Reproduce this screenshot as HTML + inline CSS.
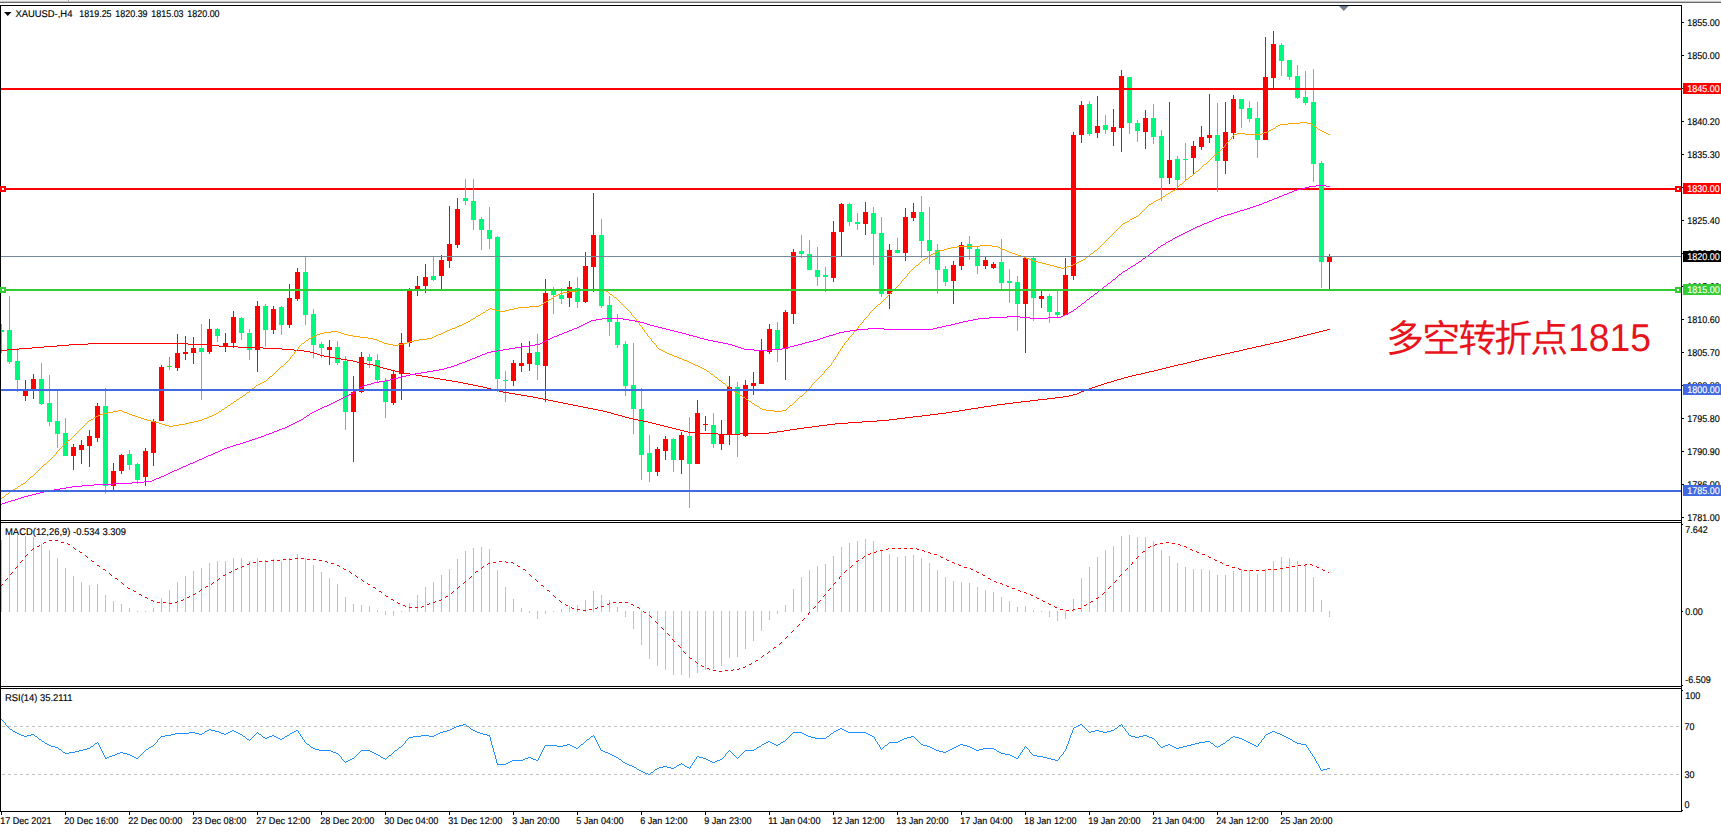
<!DOCTYPE html>
<html lang="zh"><head><meta charset="utf-8"><title>XAUUSD H4</title>
<style>html,body{margin:0;padding:0;background:#fff;overflow:hidden}svg{display:block}text{font-family:"Liberation Sans","Noto Sans CJK SC",sans-serif;font-size:9.8px;fill:#000;stroke:#000;stroke-width:.15px;text-rendering:geometricPrecision}.w{fill:#fff;stroke:#fff}.note{font-size:36.8px;fill:#E8141C;stroke:none;font-weight:400}</style></head><body>
<svg width="1721" height="832" viewBox="0 0 1721 832">
<rect width="1721" height="832" fill="#fff"/>
<g shape-rendering="crispEdges">
<rect x="0" y="0" width="1721" height="1" fill="#F2F2F2"/>
<rect x="0" y="1" width="1721" height="1" fill="#C4C4C4"/>
<rect x="0" y="2" width="1721" height="1" fill="#6A6A6A"/>
<rect x="68" y="0" width="1" height="1" fill="#A0A0A0"/>
<rect x="68" y="1" width="1" height="1" fill="#B4B4B4"/>
<rect x="69" y="0" width="1" height="1" fill="#FFFFFF"/>
<rect x="1" y="188" width="1681" height="2" fill="#FF0000"/>
<g id="candles">
<rect x="1" y="324" width="1" height="29" fill="#00F87C"/>
<rect x="-1" y="330" width="5" height="2" fill="#00F87C"/>
<rect x="9" y="296" width="1" height="68" fill="#00F87C"/>
<rect x="7" y="330" width="5" height="32" fill="#00F87C"/>
<rect x="17" y="348" width="1" height="44" fill="#00F87C"/>
<rect x="15" y="361" width="5" height="19" fill="#00F87C"/>
<rect x="25" y="380" width="1" height="21" fill="#FF0000"/>
<rect x="23" y="390" width="5" height="6" fill="#FF0000"/>
<rect x="33" y="374" width="1" height="25" fill="#FF0000"/>
<rect x="31" y="379" width="5" height="11" fill="#FF0000"/>
<rect x="41" y="363" width="1" height="42" fill="#00F87C"/>
<rect x="39" y="379" width="5" height="25" fill="#00F87C"/>
<rect x="49" y="375" width="1" height="51" fill="#00F87C"/>
<rect x="47" y="403" width="5" height="19" fill="#00F87C"/>
<rect x="57" y="390" width="1" height="58" fill="#00F87C"/>
<rect x="55" y="421" width="5" height="13" fill="#00F87C"/>
<rect x="65" y="418" width="1" height="38" fill="#00F87C"/>
<rect x="63" y="433" width="5" height="23" fill="#00F87C"/>
<rect x="73" y="444" width="1" height="26" fill="#FF0000"/>
<rect x="71" y="447" width="5" height="9" fill="#FF0000"/>
<rect x="81" y="440" width="1" height="24" fill="#FF0000"/>
<rect x="79" y="445" width="5" height="5" fill="#FF0000"/>
<rect x="89" y="430" width="1" height="37" fill="#FF0000"/>
<rect x="87" y="436" width="5" height="10" fill="#FF0000"/>
<rect x="97" y="403" width="1" height="39" fill="#FF0000"/>
<rect x="95" y="406" width="5" height="32" fill="#FF0000"/>
<rect x="105" y="388" width="1" height="105" fill="#00F87C"/>
<rect x="103" y="406" width="5" height="80" fill="#00F87C"/>
<rect x="113" y="463" width="1" height="27" fill="#FF0000"/>
<rect x="111" y="471" width="5" height="15" fill="#FF0000"/>
<rect x="121" y="454" width="1" height="20" fill="#FF0000"/>
<rect x="119" y="455" width="5" height="16" fill="#FF0000"/>
<rect x="129" y="450" width="1" height="20" fill="#00F87C"/>
<rect x="127" y="454" width="5" height="11" fill="#00F87C"/>
<rect x="137" y="463" width="1" height="21" fill="#00F87C"/>
<rect x="135" y="464" width="5" height="16" fill="#00F87C"/>
<rect x="145" y="448" width="1" height="38" fill="#FF0000"/>
<rect x="143" y="451" width="5" height="26" fill="#FF0000"/>
<rect x="153" y="419" width="1" height="47" fill="#FF0000"/>
<rect x="151" y="421" width="5" height="32" fill="#FF0000"/>
<rect x="161" y="365" width="1" height="56" fill="#FF0000"/>
<rect x="159" y="367" width="5" height="54" fill="#FF0000"/>
<rect x="169" y="357" width="1" height="13" fill="#22DD22"/>
<rect x="167" y="366" width="5" height="1" fill="#22DD22"/>
<rect x="177" y="334" width="1" height="37" fill="#FF0000"/>
<rect x="175" y="353" width="5" height="15" fill="#FF0000"/>
<rect x="185" y="336" width="1" height="24" fill="#FF0000"/>
<rect x="183" y="352" width="5" height="2" fill="#FF0000"/>
<rect x="193" y="337" width="1" height="27" fill="#FF0000"/>
<rect x="191" y="348" width="5" height="5" fill="#FF0000"/>
<rect x="201" y="324" width="1" height="76" fill="#00F87C"/>
<rect x="199" y="348" width="5" height="4" fill="#00F87C"/>
<rect x="209" y="319" width="1" height="35" fill="#FF0000"/>
<rect x="207" y="329" width="5" height="23" fill="#FF0000"/>
<rect x="217" y="328" width="1" height="14" fill="#00F87C"/>
<rect x="215" y="329" width="5" height="7" fill="#00F87C"/>
<rect x="225" y="333" width="1" height="19" fill="#FF0000"/>
<rect x="223" y="343" width="5" height="4" fill="#FF0000"/>
<rect x="233" y="311" width="1" height="37" fill="#FF0000"/>
<rect x="231" y="317" width="5" height="26" fill="#FF0000"/>
<rect x="241" y="317" width="1" height="23" fill="#00F87C"/>
<rect x="239" y="318" width="5" height="15" fill="#00F87C"/>
<rect x="249" y="329" width="1" height="31" fill="#00F87C"/>
<rect x="247" y="333" width="5" height="17" fill="#00F87C"/>
<rect x="257" y="301" width="1" height="71" fill="#FF0000"/>
<rect x="255" y="306" width="5" height="44" fill="#FF0000"/>
<rect x="265" y="304" width="1" height="43" fill="#00F87C"/>
<rect x="263" y="306" width="5" height="24" fill="#00F87C"/>
<rect x="273" y="306" width="1" height="28" fill="#FF0000"/>
<rect x="271" y="309" width="5" height="21" fill="#FF0000"/>
<rect x="281" y="306" width="1" height="29" fill="#00F87C"/>
<rect x="279" y="307" width="5" height="18" fill="#00F87C"/>
<rect x="289" y="284" width="1" height="44" fill="#FF0000"/>
<rect x="287" y="298" width="5" height="27" fill="#FF0000"/>
<rect x="297" y="268" width="1" height="33" fill="#FF0000"/>
<rect x="295" y="272" width="5" height="27" fill="#FF0000"/>
<rect x="305" y="256" width="1" height="69" fill="#00F87C"/>
<rect x="303" y="272" width="5" height="43" fill="#00F87C"/>
<rect x="313" y="309" width="1" height="49" fill="#00F87C"/>
<rect x="311" y="314" width="5" height="31" fill="#00F87C"/>
<rect x="321" y="342" width="1" height="16" fill="#00F87C"/>
<rect x="319" y="344" width="5" height="4" fill="#00F87C"/>
<rect x="329" y="340" width="1" height="25" fill="#FF0000"/>
<rect x="327" y="347" width="5" height="3" fill="#FF0000"/>
<rect x="337" y="341" width="1" height="24" fill="#00F87C"/>
<rect x="335" y="347" width="5" height="16" fill="#00F87C"/>
<rect x="345" y="356" width="1" height="74" fill="#00F87C"/>
<rect x="343" y="361" width="5" height="51" fill="#00F87C"/>
<rect x="353" y="376" width="1" height="86" fill="#FF0000"/>
<rect x="351" y="392" width="5" height="20" fill="#FF0000"/>
<rect x="361" y="352" width="1" height="41" fill="#FF0000"/>
<rect x="359" y="357" width="5" height="35" fill="#FF0000"/>
<rect x="369" y="354" width="1" height="14" fill="#00F87C"/>
<rect x="367" y="357" width="5" height="4" fill="#00F87C"/>
<rect x="377" y="354" width="1" height="29" fill="#00F87C"/>
<rect x="375" y="360" width="5" height="20" fill="#00F87C"/>
<rect x="385" y="378" width="1" height="40" fill="#00F87C"/>
<rect x="383" y="381" width="5" height="21" fill="#00F87C"/>
<rect x="393" y="370" width="1" height="35" fill="#FF0000"/>
<rect x="391" y="374" width="5" height="29" fill="#FF0000"/>
<rect x="401" y="333" width="1" height="67" fill="#FF0000"/>
<rect x="399" y="343" width="5" height="31" fill="#FF0000"/>
<rect x="409" y="288" width="1" height="59" fill="#FF0000"/>
<rect x="407" y="291" width="5" height="52" fill="#FF0000"/>
<rect x="417" y="276" width="1" height="20" fill="#FF0000"/>
<rect x="415" y="286" width="5" height="3" fill="#FF0000"/>
<rect x="425" y="264" width="1" height="29" fill="#FF0000"/>
<rect x="423" y="277" width="5" height="9" fill="#FF0000"/>
<rect x="433" y="256" width="1" height="25" fill="#00F87C"/>
<rect x="431" y="276" width="5" height="4" fill="#00F87C"/>
<rect x="441" y="255" width="1" height="34" fill="#FF0000"/>
<rect x="439" y="260" width="5" height="16" fill="#FF0000"/>
<rect x="449" y="206" width="1" height="62" fill="#FF0000"/>
<rect x="447" y="244" width="5" height="17" fill="#FF0000"/>
<rect x="457" y="198" width="1" height="50" fill="#FF0000"/>
<rect x="455" y="209" width="5" height="36" fill="#FF0000"/>
<rect x="465" y="179" width="1" height="26" fill="#00F87C"/>
<rect x="463" y="198" width="5" height="3" fill="#00F87C"/>
<rect x="473" y="179" width="1" height="51" fill="#00F87C"/>
<rect x="471" y="201" width="5" height="19" fill="#00F87C"/>
<rect x="481" y="217" width="1" height="33" fill="#00F87C"/>
<rect x="479" y="219" width="5" height="11" fill="#00F87C"/>
<rect x="489" y="207" width="1" height="42" fill="#00F87C"/>
<rect x="487" y="230" width="5" height="9" fill="#00F87C"/>
<rect x="497" y="236" width="1" height="156" fill="#00F87C"/>
<rect x="495" y="237" width="5" height="142" fill="#00F87C"/>
<rect x="505" y="371" width="1" height="31" fill="#00F87C"/>
<rect x="503" y="380" width="5" height="1" fill="#00F87C"/>
<rect x="513" y="360" width="1" height="26" fill="#FF0000"/>
<rect x="511" y="363" width="5" height="18" fill="#FF0000"/>
<rect x="521" y="343" width="1" height="29" fill="#FF0000"/>
<rect x="519" y="363" width="5" height="3" fill="#FF0000"/>
<rect x="529" y="341" width="1" height="30" fill="#FF0000"/>
<rect x="527" y="353" width="5" height="11" fill="#FF0000"/>
<rect x="537" y="334" width="1" height="46" fill="#00F87C"/>
<rect x="535" y="352" width="5" height="13" fill="#00F87C"/>
<rect x="545" y="279" width="1" height="123" fill="#FF0000"/>
<rect x="543" y="293" width="5" height="73" fill="#FF0000"/>
<rect x="553" y="287" width="1" height="27" fill="#00F87C"/>
<rect x="551" y="290" width="5" height="5" fill="#00F87C"/>
<rect x="561" y="288" width="1" height="16" fill="#00F87C"/>
<rect x="559" y="295" width="5" height="4" fill="#00F87C"/>
<rect x="569" y="281" width="1" height="26" fill="#FF0000"/>
<rect x="567" y="287" width="5" height="11" fill="#FF0000"/>
<rect x="577" y="277" width="1" height="31" fill="#00F87C"/>
<rect x="575" y="288" width="5" height="14" fill="#00F87C"/>
<rect x="585" y="252" width="1" height="51" fill="#FF0000"/>
<rect x="583" y="266" width="5" height="36" fill="#FF0000"/>
<rect x="593" y="193" width="1" height="99" fill="#FF0000"/>
<rect x="591" y="235" width="5" height="32" fill="#FF0000"/>
<rect x="601" y="219" width="1" height="89" fill="#00F87C"/>
<rect x="599" y="235" width="5" height="71" fill="#00F87C"/>
<rect x="609" y="296" width="1" height="40" fill="#00F87C"/>
<rect x="607" y="305" width="5" height="17" fill="#00F87C"/>
<rect x="617" y="314" width="1" height="34" fill="#00F87C"/>
<rect x="615" y="322" width="5" height="23" fill="#00F87C"/>
<rect x="625" y="341" width="1" height="55" fill="#00F87C"/>
<rect x="623" y="344" width="5" height="42" fill="#00F87C"/>
<rect x="633" y="343" width="1" height="91" fill="#00F87C"/>
<rect x="631" y="385" width="5" height="24" fill="#00F87C"/>
<rect x="641" y="388" width="1" height="92" fill="#00F87C"/>
<rect x="639" y="409" width="5" height="46" fill="#00F87C"/>
<rect x="649" y="435" width="1" height="47" fill="#00F87C"/>
<rect x="647" y="453" width="5" height="19" fill="#00F87C"/>
<rect x="657" y="447" width="1" height="29" fill="#FF0000"/>
<rect x="655" y="449" width="5" height="23" fill="#FF0000"/>
<rect x="665" y="436" width="1" height="24" fill="#FF0000"/>
<rect x="663" y="439" width="5" height="12" fill="#FF0000"/>
<rect x="673" y="438" width="1" height="34" fill="#00F87C"/>
<rect x="671" y="439" width="5" height="21" fill="#00F87C"/>
<rect x="681" y="432" width="1" height="42" fill="#FF0000"/>
<rect x="679" y="435" width="5" height="25" fill="#FF0000"/>
<rect x="689" y="417" width="1" height="91" fill="#00F87C"/>
<rect x="687" y="436" width="5" height="28" fill="#00F87C"/>
<rect x="697" y="400" width="1" height="64" fill="#FF0000"/>
<rect x="695" y="413" width="5" height="51" fill="#FF0000"/>
<rect x="705" y="416" width="1" height="15" fill="#FF0000"/>
<rect x="703" y="424" width="5" height="1" fill="#FF0000"/>
<rect x="713" y="413" width="1" height="35" fill="#00F87C"/>
<rect x="711" y="425" width="5" height="19" fill="#00F87C"/>
<rect x="721" y="420" width="1" height="30" fill="#FF0000"/>
<rect x="719" y="434" width="5" height="10" fill="#FF0000"/>
<rect x="729" y="376" width="1" height="69" fill="#FF0000"/>
<rect x="727" y="387" width="5" height="48" fill="#FF0000"/>
<rect x="737" y="382" width="1" height="75" fill="#00F87C"/>
<rect x="735" y="387" width="5" height="48" fill="#00F87C"/>
<rect x="745" y="380" width="1" height="57" fill="#FF0000"/>
<rect x="743" y="385" width="5" height="51" fill="#FF0000"/>
<rect x="753" y="372" width="1" height="23" fill="#FF0000"/>
<rect x="751" y="383" width="5" height="3" fill="#FF0000"/>
<rect x="761" y="339" width="1" height="45" fill="#FF0000"/>
<rect x="759" y="351" width="5" height="33" fill="#FF0000"/>
<rect x="769" y="324" width="1" height="30" fill="#FF0000"/>
<rect x="767" y="329" width="5" height="23" fill="#FF0000"/>
<rect x="777" y="322" width="1" height="40" fill="#00F87C"/>
<rect x="775" y="330" width="5" height="19" fill="#00F87C"/>
<rect x="785" y="310" width="1" height="70" fill="#FF0000"/>
<rect x="783" y="312" width="5" height="37" fill="#FF0000"/>
<rect x="793" y="249" width="1" height="75" fill="#FF0000"/>
<rect x="791" y="252" width="5" height="62" fill="#FF0000"/>
<rect x="801" y="235" width="1" height="23" fill="#00F87C"/>
<rect x="799" y="251" width="5" height="3" fill="#00F87C"/>
<rect x="809" y="240" width="1" height="30" fill="#00F87C"/>
<rect x="807" y="254" width="5" height="16" fill="#00F87C"/>
<rect x="817" y="247" width="1" height="39" fill="#00F87C"/>
<rect x="815" y="270" width="5" height="7" fill="#00F87C"/>
<rect x="825" y="267" width="1" height="25" fill="#00F87C"/>
<rect x="823" y="275" width="5" height="2" fill="#00F87C"/>
<rect x="833" y="221" width="1" height="61" fill="#FF0000"/>
<rect x="831" y="232" width="5" height="46" fill="#FF0000"/>
<rect x="841" y="203" width="1" height="53" fill="#FF0000"/>
<rect x="839" y="204" width="5" height="28" fill="#FF0000"/>
<rect x="849" y="203" width="1" height="23" fill="#00F87C"/>
<rect x="847" y="204" width="5" height="18" fill="#00F87C"/>
<rect x="857" y="213" width="1" height="17" fill="#00F87C"/>
<rect x="855" y="222" width="5" height="2" fill="#00F87C"/>
<rect x="865" y="202" width="1" height="33" fill="#FF0000"/>
<rect x="863" y="212" width="5" height="12" fill="#FF0000"/>
<rect x="873" y="207" width="1" height="58" fill="#00F87C"/>
<rect x="871" y="213" width="5" height="21" fill="#00F87C"/>
<rect x="881" y="217" width="1" height="80" fill="#00F87C"/>
<rect x="879" y="233" width="5" height="61" fill="#00F87C"/>
<rect x="889" y="244" width="1" height="65" fill="#FF0000"/>
<rect x="887" y="250" width="5" height="44" fill="#FF0000"/>
<rect x="897" y="238" width="1" height="15" fill="#00F87C"/>
<rect x="895" y="250" width="5" height="3" fill="#00F87C"/>
<rect x="905" y="208" width="1" height="53" fill="#FF0000"/>
<rect x="903" y="217" width="5" height="36" fill="#FF0000"/>
<rect x="913" y="203" width="1" height="18" fill="#FF0000"/>
<rect x="911" y="212" width="5" height="6" fill="#FF0000"/>
<rect x="921" y="196" width="1" height="62" fill="#00F87C"/>
<rect x="919" y="212" width="5" height="29" fill="#00F87C"/>
<rect x="929" y="207" width="1" height="57" fill="#00F87C"/>
<rect x="927" y="240" width="5" height="11" fill="#00F87C"/>
<rect x="937" y="244" width="1" height="50" fill="#00F87C"/>
<rect x="935" y="250" width="5" height="20" fill="#00F87C"/>
<rect x="945" y="266" width="1" height="20" fill="#00F87C"/>
<rect x="943" y="269" width="5" height="13" fill="#00F87C"/>
<rect x="953" y="261" width="1" height="43" fill="#FF0000"/>
<rect x="951" y="265" width="5" height="16" fill="#FF0000"/>
<rect x="961" y="242" width="1" height="28" fill="#FF0000"/>
<rect x="959" y="245" width="5" height="21" fill="#FF0000"/>
<rect x="969" y="236" width="1" height="24" fill="#00F87C"/>
<rect x="967" y="244" width="5" height="5" fill="#00F87C"/>
<rect x="977" y="247" width="1" height="27" fill="#00F87C"/>
<rect x="975" y="249" width="5" height="17" fill="#00F87C"/>
<rect x="985" y="257" width="1" height="12" fill="#FF0000"/>
<rect x="983" y="260" width="5" height="6" fill="#FF0000"/>
<rect x="993" y="262" width="1" height="7" fill="#FF0000"/>
<rect x="991" y="264" width="5" height="4" fill="#FF0000"/>
<rect x="1001" y="239" width="1" height="50" fill="#00F87C"/>
<rect x="999" y="262" width="5" height="21" fill="#00F87C"/>
<rect x="1009" y="269" width="1" height="34" fill="#00F87C"/>
<rect x="1007" y="281" width="5" height="2" fill="#00F87C"/>
<rect x="1017" y="276" width="1" height="55" fill="#00F87C"/>
<rect x="1015" y="282" width="5" height="22" fill="#00F87C"/>
<rect x="1025" y="256" width="1" height="97" fill="#FF0000"/>
<rect x="1023" y="258" width="5" height="46" fill="#FF0000"/>
<rect x="1033" y="257" width="1" height="64" fill="#00F87C"/>
<rect x="1031" y="258" width="5" height="40" fill="#00F87C"/>
<rect x="1041" y="291" width="1" height="17" fill="#FF0000"/>
<rect x="1039" y="296" width="5" height="3" fill="#FF0000"/>
<rect x="1049" y="294" width="1" height="29" fill="#00F87C"/>
<rect x="1047" y="296" width="5" height="16" fill="#00F87C"/>
<rect x="1057" y="290" width="1" height="27" fill="#00F87C"/>
<rect x="1055" y="312" width="5" height="3" fill="#00F87C"/>
<rect x="1065" y="258" width="1" height="57" fill="#FF0000"/>
<rect x="1063" y="275" width="5" height="40" fill="#FF0000"/>
<rect x="1073" y="132" width="1" height="148" fill="#FF0000"/>
<rect x="1071" y="135" width="5" height="141" fill="#FF0000"/>
<rect x="1081" y="101" width="1" height="42" fill="#FF0000"/>
<rect x="1079" y="105" width="5" height="30" fill="#FF0000"/>
<rect x="1089" y="101" width="1" height="35" fill="#00F87C"/>
<rect x="1087" y="104" width="5" height="30" fill="#00F87C"/>
<rect x="1097" y="96" width="1" height="42" fill="#FF0000"/>
<rect x="1095" y="126" width="5" height="7" fill="#FF0000"/>
<rect x="1105" y="115" width="1" height="19" fill="#00F87C"/>
<rect x="1103" y="125" width="5" height="5" fill="#00F87C"/>
<rect x="1113" y="109" width="1" height="37" fill="#FF0000"/>
<rect x="1111" y="127" width="5" height="5" fill="#FF0000"/>
<rect x="1121" y="70" width="1" height="82" fill="#FF0000"/>
<rect x="1119" y="76" width="5" height="52" fill="#FF0000"/>
<rect x="1129" y="77" width="1" height="57" fill="#00F87C"/>
<rect x="1127" y="77" width="5" height="46" fill="#00F87C"/>
<rect x="1137" y="120" width="1" height="22" fill="#00F87C"/>
<rect x="1135" y="123" width="5" height="8" fill="#00F87C"/>
<rect x="1145" y="110" width="1" height="39" fill="#FF0000"/>
<rect x="1143" y="118" width="5" height="14" fill="#FF0000"/>
<rect x="1153" y="104" width="1" height="40" fill="#00F87C"/>
<rect x="1151" y="118" width="5" height="19" fill="#00F87C"/>
<rect x="1161" y="130" width="1" height="71" fill="#00F87C"/>
<rect x="1159" y="136" width="5" height="42" fill="#00F87C"/>
<rect x="1169" y="102" width="1" height="82" fill="#FF0000"/>
<rect x="1167" y="160" width="5" height="18" fill="#FF0000"/>
<rect x="1177" y="156" width="1" height="31" fill="#00F87C"/>
<rect x="1175" y="159" width="5" height="21" fill="#00F87C"/>
<rect x="1185" y="143" width="1" height="37" fill="#00F87C"/>
<rect x="1183" y="159" width="5" height="1" fill="#00F87C"/>
<rect x="1193" y="141" width="1" height="33" fill="#FF0000"/>
<rect x="1191" y="146" width="5" height="12" fill="#FF0000"/>
<rect x="1201" y="126" width="1" height="24" fill="#FF0000"/>
<rect x="1199" y="137" width="5" height="10" fill="#FF0000"/>
<rect x="1209" y="94" width="1" height="49" fill="#FF0000"/>
<rect x="1207" y="135" width="5" height="3" fill="#FF0000"/>
<rect x="1217" y="103" width="1" height="89" fill="#00F87C"/>
<rect x="1215" y="135" width="5" height="26" fill="#00F87C"/>
<rect x="1225" y="102" width="1" height="72" fill="#FF0000"/>
<rect x="1223" y="132" width="5" height="29" fill="#FF0000"/>
<rect x="1233" y="95" width="1" height="44" fill="#FF0000"/>
<rect x="1231" y="99" width="5" height="34" fill="#FF0000"/>
<rect x="1241" y="99" width="1" height="29" fill="#00F87C"/>
<rect x="1239" y="99" width="5" height="10" fill="#00F87C"/>
<rect x="1249" y="101" width="1" height="21" fill="#00F87C"/>
<rect x="1247" y="108" width="5" height="11" fill="#00F87C"/>
<rect x="1257" y="102" width="1" height="56" fill="#00F87C"/>
<rect x="1255" y="118" width="5" height="22" fill="#00F87C"/>
<rect x="1265" y="37" width="1" height="103" fill="#FF0000"/>
<rect x="1263" y="77" width="5" height="63" fill="#FF0000"/>
<rect x="1273" y="31" width="1" height="57" fill="#FF0000"/>
<rect x="1271" y="44" width="5" height="34" fill="#FF0000"/>
<rect x="1281" y="43" width="1" height="33" fill="#00F87C"/>
<rect x="1279" y="45" width="5" height="16" fill="#00F87C"/>
<rect x="1289" y="60" width="1" height="20" fill="#00F87C"/>
<rect x="1287" y="60" width="5" height="17" fill="#00F87C"/>
<rect x="1297" y="65" width="1" height="34" fill="#00F87C"/>
<rect x="1295" y="76" width="5" height="22" fill="#00F87C"/>
<rect x="1305" y="71" width="1" height="34" fill="#00F87C"/>
<rect x="1303" y="97" width="5" height="6" fill="#00F87C"/>
<rect x="1313" y="69" width="1" height="113" fill="#00F87C"/>
<rect x="1311" y="102" width="5" height="62" fill="#00F87C"/>
<rect x="1321" y="161" width="1" height="127" fill="#00F87C"/>
<rect x="1319" y="163" width="5" height="99" fill="#00F87C"/>
<rect x="1329" y="254" width="1" height="35" fill="#FF0000"/>
<rect x="1327" y="256" width="5" height="6" fill="#FF0000"/>
</g>
<path d="M1327,329h3v1h-3zM1323,330h4v1h-4zM1319,331h4v1h-4zM1315,332h4v1h-4zM1311,333h4v1h-4zM1307,334h4v1h-4zM1303,335h4v1h-4zM1299,336h4v1h-4zM1295,337h4v1h-4zM1291,338h4v1h-4zM1287,339h4v1h-4zM1283,340h4v1h-4zM1279,341h4v1h-4zM1274,342h5v1h-5zM88,343h100v1h-100zM1270,343h4v1h-4zM69,344h19v1h-19zM188,344h19v1h-19zM1265,344h5v1h-5zM57,345h12v1h-12zM207,345h12v1h-12zM1261,345h4v1h-4zM44,346h13v1h-13zM219,346h19v1h-19zM1256,346h5v1h-5zM32,347h12v1h-12zM238,347h25v1h-25zM1252,347h4v1h-4zM19,348h13v1h-13zM263,348h19v1h-19zM1247,348h5v1h-5zM7,349h12v1h-12zM282,349h12v1h-12zM1243,349h4v1h-4zM0,350h7v1h-7zM294,350h10v1h-10zM1239,350h4v1h-4zM304,351h6v1h-6zM1234,351h5v1h-5zM310,352h4v1h-4zM1230,352h4v1h-4zM314,353h3v1h-3zM1225,353h5v1h-5zM317,354h3v1h-3zM1221,354h4v1h-4zM320,355h4v1h-4zM1216,355h5v1h-5zM324,356h5v1h-5zM1212,356h4v1h-4zM329,357h6v1h-6zM1207,357h5v1h-5zM335,358h6v1h-6zM1203,358h4v1h-4zM341,359h6v1h-6zM1199,359h4v1h-4zM347,360h6v1h-6zM1195,360h4v1h-4zM353,361h4v1h-4zM1191,361h4v1h-4zM357,362h5v1h-5zM1187,362h4v1h-4zM362,363h5v1h-5zM1183,363h4v1h-4zM367,364h6v1h-6zM1178,364h5v1h-5zM373,365h4v1h-4zM1174,365h4v1h-4zM377,366h3v1h-3zM1170,366h4v1h-4zM380,367h3v1h-3zM1166,367h4v1h-4zM383,368h4v1h-4zM1162,368h4v1h-4zM387,369h4v1h-4zM1158,369h4v1h-4zM391,370h4v1h-4zM1154,370h4v1h-4zM395,371h4v1h-4zM1149,371h5v1h-5zM399,372h5v1h-5zM1145,372h4v1h-4zM404,373h6v1h-6zM1141,373h4v1h-4zM410,374h6v1h-6zM1136,374h5v1h-5zM416,375h6v1h-6zM1132,375h4v1h-4zM422,376h6v1h-6zM1128,376h4v1h-4zM428,377h6v1h-6zM1124,377h4v1h-4zM434,378h6v1h-6zM1121,378h3v1h-3zM440,379h6v1h-6zM1117,379h4v1h-4zM446,380h6v1h-6zM1114,380h3v1h-3zM452,381h6v1h-6zM1111,381h3v1h-3zM458,382h5v1h-5zM1107,382h4v1h-4zM463,383h5v1h-5zM1104,383h3v1h-3zM468,384h5v1h-5zM1101,384h3v1h-3zM473,385h5v1h-5zM1098,385h3v1h-3zM478,386h5v1h-5zM1095,386h3v1h-3zM483,387h4v1h-4zM1092,387h3v1h-3zM487,388h4v1h-4zM1089,388h3v1h-3zM491,389h4v1h-4zM1086,389h3v1h-3zM495,390h4v1h-4zM1084,390h2v1h-2zM499,391h4v1h-4zM1081,391h3v1h-3zM503,392h6v1h-6zM1079,392h2v1h-2zM509,393h6v1h-6zM1077,393h2v1h-2zM515,394h6v1h-6zM1073,394h4v1h-4zM521,395h6v1h-6zM1069,395h4v1h-4zM527,396h6v1h-6zM1063,396h6v1h-6zM533,397h5v1h-5zM1055,397h8v1h-8zM538,398h5v1h-5zM1047,398h8v1h-8zM543,399h5v1h-5zM1038,399h9v1h-9zM548,400h5v1h-5zM1030,400h8v1h-8zM553,401h5v1h-5zM1021,401h9v1h-9zM558,402h5v1h-5zM1013,402h8v1h-8zM563,403h5v1h-5zM1005,403h8v1h-8zM568,404h5v1h-5zM997,404h8v1h-8zM573,405h5v1h-5zM991,405h6v1h-6zM578,406h5v1h-5zM984,406h7v1h-7zM583,407h5v1h-5zM978,407h6v1h-6zM588,408h5v1h-5zM971,408h7v1h-7zM593,409h5v1h-5zM965,409h6v1h-6zM598,410h5v1h-5zM959,410h6v1h-6zM603,411h4v1h-4zM952,411h7v1h-7zM607,412h4v1h-4zM946,412h6v1h-6zM611,413h3v1h-3zM938,413h8v1h-8zM614,414h4v1h-4zM930,414h8v1h-8zM618,415h4v1h-4zM922,415h8v1h-8zM622,416h3v1h-3zM913,416h9v1h-9zM625,417h4v1h-4zM905,417h8v1h-8zM629,418h4v1h-4zM897,418h8v1h-8zM633,419h5v1h-5zM889,419h8v1h-8zM638,420h5v1h-5zM877,420h12v1h-12zM643,421h5v1h-5zM862,421h15v1h-15zM648,422h4v1h-4zM848,422h14v1h-14zM652,423h4v1h-4zM835,423h13v1h-13zM656,424h4v1h-4zM827,424h8v1h-8zM660,425h4v1h-4zM819,425h8v1h-8zM664,426h4v1h-4zM812,426h7v1h-7zM668,427h4v1h-4zM804,427h8v1h-8zM672,428h4v1h-4zM797,428h7v1h-7zM676,429h4v1h-4zM790,429h7v1h-7zM680,430h4v1h-4zM784,430h6v1h-6zM684,431h4v1h-4zM777,431h7v1h-7zM688,432h10v1h-10zM769,432h8v1h-8zM698,433h20v1h-20zM740,433h29v1h-29zM718,434h22v1h-22z" fill="#FF0000"/>
<path d="M1300,122h7v1h-7zM1288,123h12v1h-12zM1307,123h4v1h-4zM1280,124h8v1h-8zM1311,124h2v1h-2zM1278,125h2v1h-2zM1313,125h1v1h-1zM1276,126h2v1h-2zM1314,126h2v1h-2zM1275,127h1v1h-1zM1316,127h1v1h-1zM1273,128h2v1h-2zM1317,128h1v1h-1zM1271,129h2v1h-2zM1318,129h2v1h-2zM1269,130h2v1h-2zM1320,130h2v1h-2zM1267,131h2v1h-2zM1322,131h2v1h-2zM1264,132h3v1h-3zM1324,132h2v1h-2zM1237,133h8v1h-8zM1262,133h2v1h-2zM1326,133h2v1h-2zM1234,134h3v1h-3zM1245,134h17v1h-17zM1328,134h2v1h-2zM1233,135h1v1h-1zM1232,136h1v1h-1zM1231,137h1v1h-1zM1231,138h1v1h-1zM1230,139h1v1h-1zM1229,140h1v1h-1zM1228,141h1v1h-1zM1227,142h1v1h-1zM1226,143h1v1h-1zM1225,144h1v1h-1zM1225,145h1v1h-1zM1224,146h1v1h-1zM1223,147h1v1h-1zM1222,148h1v1h-1zM1221,149h1v1h-1zM1220,150h1v1h-1zM1219,151h1v1h-1zM1218,152h1v1h-1zM1217,153h1v1h-1zM1215,154h2v1h-2zM1214,155h1v1h-1zM1213,156h1v1h-1zM1212,157h1v1h-1zM1211,158h1v1h-1zM1210,159h1v1h-1zM1209,160h1v1h-1zM1208,161h1v1h-1zM1207,162h1v1h-1zM1206,163h1v1h-1zM1204,164h2v1h-2zM1203,165h1v1h-1zM1202,166h1v1h-1zM1201,167h1v1h-1zM1200,168h1v1h-1zM1199,169h1v1h-1zM1198,170h1v1h-1zM1196,171h2v1h-2zM1195,172h1v1h-1zM1194,173h1v1h-1zM1193,174h1v1h-1zM1192,175h1v1h-1zM1190,176h2v1h-2zM1189,177h1v1h-1zM1188,178h1v1h-1zM1186,179h2v1h-2zM1185,180h1v1h-1zM1184,181h1v1h-1zM1183,182h1v1h-1zM1182,183h1v1h-1zM1180,184h2v1h-2zM1179,185h1v1h-1zM1178,186h1v1h-1zM1177,187h1v1h-1zM1176,188h1v1h-1zM1175,189h1v1h-1zM1173,190h2v1h-2zM1171,191h2v1h-2zM1170,192h1v1h-1zM1168,193h2v1h-2zM1166,194h2v1h-2zM1165,195h1v1h-1zM1163,196h2v1h-2zM1161,197h2v1h-2zM1160,198h1v1h-1zM1158,199h2v1h-2zM1156,200h2v1h-2zM1154,201h2v1h-2zM1153,202h1v1h-1zM1151,203h2v1h-2zM1149,204h2v1h-2zM1148,205h1v1h-1zM1147,206h1v1h-1zM1146,207h1v1h-1zM1145,208h1v1h-1zM1144,209h1v1h-1zM1143,210h1v1h-1zM1142,211h1v1h-1zM1141,212h1v1h-1zM1140,213h1v1h-1zM1139,214h1v1h-1zM1138,215h1v1h-1zM1136,216h2v1h-2zM1134,217h2v1h-2zM1132,218h2v1h-2zM1130,219h2v1h-2zM1129,220h1v1h-1zM1127,221h2v1h-2zM1125,222h2v1h-2zM1123,223h2v1h-2zM1122,224h1v1h-1zM1121,225h1v1h-1zM1120,226h1v1h-1zM1119,227h1v1h-1zM1118,228h1v1h-1zM1117,229h1v1h-1zM1116,230h1v1h-1zM1115,231h1v1h-1zM1114,232h1v1h-1zM1113,233h1v1h-1zM1112,234h1v1h-1zM1111,235h1v1h-1zM1110,236h1v1h-1zM1109,237h1v1h-1zM1108,238h1v1h-1zM1107,239h1v1h-1zM1106,240h1v1h-1zM1105,241h1v1h-1zM1104,242h1v1h-1zM1103,243h1v1h-1zM1102,244h1v1h-1zM980,245h12v1h-12zM1101,245h1v1h-1zM957,246h23v1h-23zM992,246h6v1h-6zM1100,246h1v1h-1zM951,247h6v1h-6zM998,247h2v1h-2zM1099,247h1v1h-1zM947,248h4v1h-4zM1000,248h2v1h-2zM1098,248h1v1h-1zM944,249h3v1h-3zM1002,249h3v1h-3zM1097,249h1v1h-1zM940,250h4v1h-4zM1005,250h2v1h-2zM1095,250h2v1h-2zM937,251h3v1h-3zM1007,251h2v1h-2zM1094,251h1v1h-1zM935,252h2v1h-2zM1009,252h3v1h-3zM1093,252h1v1h-1zM933,253h2v1h-2zM1012,253h3v1h-3zM1091,253h2v1h-2zM931,254h2v1h-2zM1015,254h3v1h-3zM1090,254h1v1h-1zM930,255h1v1h-1zM1018,255h3v1h-3zM1089,255h1v1h-1zM928,256h2v1h-2zM1021,256h3v1h-3zM1087,256h2v1h-2zM927,257h1v1h-1zM1024,257h2v1h-2zM1086,257h1v1h-1zM925,258h2v1h-2zM1026,258h3v1h-3zM1085,258h1v1h-1zM923,259h2v1h-2zM1029,259h3v1h-3zM1083,259h2v1h-2zM922,260h1v1h-1zM1032,260h2v1h-2zM1081,260h2v1h-2zM921,261h1v1h-1zM1034,261h4v1h-4zM1079,261h2v1h-2zM920,262h1v1h-1zM1038,262h4v1h-4zM1077,262h2v1h-2zM919,263h1v1h-1zM1042,263h4v1h-4zM1075,263h2v1h-2zM918,264h1v1h-1zM1046,264h4v1h-4zM1073,264h2v1h-2zM916,265h2v1h-2zM1050,265h4v1h-4zM1071,265h2v1h-2zM915,266h1v1h-1zM1054,266h3v1h-3zM1067,266h4v1h-4zM914,267h1v1h-1zM1057,267h4v1h-4zM1064,267h3v1h-3zM913,268h1v1h-1zM1061,268h3v1h-3zM912,269h1v1h-1zM911,270h1v1h-1zM910,271h1v1h-1zM909,272h1v1h-1zM908,273h1v1h-1zM907,274h1v1h-1zM907,275h1v1h-1zM906,276h1v1h-1zM905,277h1v1h-1zM904,278h1v1h-1zM903,279h1v1h-1zM902,280h1v1h-1zM901,281h1v1h-1zM901,282h1v1h-1zM900,283h1v1h-1zM899,284h1v1h-1zM898,285h1v1h-1zM897,286h1v1h-1zM896,287h1v1h-1zM895,288h1v1h-1zM587,289h12v1h-12zM894,289h1v1h-1zM577,290h10v1h-10zM599,290h7v1h-7zM893,290h1v1h-1zM569,291h8v1h-8zM606,291h2v1h-2zM892,291h1v1h-1zM563,292h6v1h-6zM608,292h1v1h-1zM891,292h1v1h-1zM560,293h3v1h-3zM609,293h1v1h-1zM890,293h1v1h-1zM558,294h2v1h-2zM610,294h2v1h-2zM889,294h1v1h-1zM556,295h2v1h-2zM612,295h1v1h-1zM888,295h1v1h-1zM554,296h2v1h-2zM613,296h1v1h-1zM887,296h1v1h-1zM553,297h1v1h-1zM614,297h2v1h-2zM886,297h1v1h-1zM551,298h2v1h-2zM616,298h1v1h-1zM885,298h1v1h-1zM549,299h2v1h-2zM617,299h1v1h-1zM884,299h1v1h-1zM548,300h1v1h-1zM618,300h1v1h-1zM883,300h1v1h-1zM546,301h2v1h-2zM619,301h1v1h-1zM882,301h1v1h-1zM544,302h2v1h-2zM620,302h1v1h-1zM881,302h1v1h-1zM543,303h1v1h-1zM621,303h1v1h-1zM880,303h1v1h-1zM541,304h2v1h-2zM622,304h1v1h-1zM878,304h2v1h-2zM539,305h2v1h-2zM623,305h1v1h-1zM877,305h1v1h-1zM529,306h10v1h-10zM624,306h1v1h-1zM876,306h1v1h-1zM518,307h11v1h-11zM625,307h1v1h-1zM875,307h1v1h-1zM490,308h2v1h-2zM514,308h4v1h-4zM626,308h1v1h-1zM874,308h1v1h-1zM488,309h2v1h-2zM492,309h4v1h-4zM509,309h5v1h-5zM627,309h1v1h-1zM873,309h1v1h-1zM486,310h2v1h-2zM496,310h4v1h-4zM505,310h4v1h-4zM628,310h1v1h-1zM872,310h1v1h-1zM485,311h1v1h-1zM500,311h5v1h-5zM629,311h1v1h-1zM871,311h1v1h-1zM483,312h2v1h-2zM630,312h1v1h-1zM870,312h1v1h-1zM481,313h2v1h-2zM631,313h1v1h-1zM869,313h1v1h-1zM480,314h1v1h-1zM631,314h1v1h-1zM869,314h1v1h-1zM478,315h2v1h-2zM632,315h1v1h-1zM868,315h1v1h-1zM476,316h2v1h-2zM633,316h1v1h-1zM867,316h1v1h-1zM475,317h1v1h-1zM634,317h1v1h-1zM866,317h1v1h-1zM473,318h2v1h-2zM635,318h1v1h-1zM865,318h1v1h-1zM471,319h2v1h-2zM636,319h1v1h-1zM864,319h1v1h-1zM470,320h1v1h-1zM636,320h1v1h-1zM863,320h1v1h-1zM468,321h2v1h-2zM637,321h1v1h-1zM863,321h1v1h-1zM466,322h2v1h-2zM638,322h1v1h-1zM862,322h1v1h-1zM464,323h2v1h-2zM639,323h1v1h-1zM861,323h1v1h-1zM462,324h2v1h-2zM639,324h1v1h-1zM860,324h1v1h-1zM459,325h3v1h-3zM640,325h1v1h-1zM859,325h1v1h-1zM457,326h2v1h-2zM641,326h1v1h-1zM858,326h1v1h-1zM455,327h2v1h-2zM642,327h1v1h-1zM858,327h1v1h-1zM452,328h3v1h-3zM642,328h1v1h-1zM857,328h1v1h-1zM450,329h2v1h-2zM643,329h1v1h-1zM856,329h1v1h-1zM447,330h3v1h-3zM644,330h1v1h-1zM855,330h1v1h-1zM331,331h7v1h-7zM445,331h2v1h-2zM644,331h1v1h-1zM854,331h1v1h-1zM324,332h7v1h-7zM338,332h3v1h-3zM443,332h2v1h-2zM645,332h1v1h-1zM853,332h1v1h-1zM320,333h4v1h-4zM341,333h3v1h-3zM441,333h2v1h-2zM646,333h1v1h-1zM853,333h1v1h-1zM317,334h3v1h-3zM344,334h4v1h-4zM438,334h3v1h-3zM647,334h1v1h-1zM852,334h1v1h-1zM315,335h2v1h-2zM348,335h5v1h-5zM436,335h2v1h-2zM647,335h1v1h-1zM851,335h1v1h-1zM313,336h2v1h-2zM353,336h7v1h-7zM434,336h2v1h-2zM648,336h1v1h-1zM850,336h1v1h-1zM311,337h2v1h-2zM360,337h8v1h-8zM432,337h2v1h-2zM649,337h1v1h-1zM849,337h1v1h-1zM309,338h2v1h-2zM368,338h5v1h-5zM427,338h5v1h-5zM650,338h1v1h-1zM848,338h1v1h-1zM308,339h1v1h-1zM373,339h4v1h-4zM419,339h8v1h-8zM651,339h1v1h-1zM848,339h1v1h-1zM306,340h2v1h-2zM377,340h2v1h-2zM414,340h5v1h-5zM651,340h1v1h-1zM847,340h1v1h-1zM305,341h1v1h-1zM379,341h3v1h-3zM410,341h4v1h-4zM652,341h1v1h-1zM846,341h1v1h-1zM304,342h1v1h-1zM382,342h2v1h-2zM407,342h3v1h-3zM653,342h1v1h-1zM845,342h1v1h-1zM302,343h2v1h-2zM384,343h4v1h-4zM403,343h4v1h-4zM654,343h1v1h-1zM844,343h1v1h-1zM301,344h1v1h-1zM388,344h5v1h-5zM398,344h5v1h-5zM655,344h1v1h-1zM844,344h1v1h-1zM300,345h1v1h-1zM393,345h5v1h-5zM656,345h1v1h-1zM843,345h1v1h-1zM299,346h1v1h-1zM656,346h1v1h-1zM842,346h1v1h-1zM298,347h1v1h-1zM657,347h1v1h-1zM842,347h1v1h-1zM298,348h1v1h-1zM658,348h1v1h-1zM841,348h1v1h-1zM297,349h1v1h-1zM659,349h2v1h-2zM840,349h1v1h-1zM296,350h1v1h-1zM661,350h2v1h-2zM840,350h1v1h-1zM295,351h1v1h-1zM663,351h2v1h-2zM839,351h1v1h-1zM294,352h1v1h-1zM665,352h2v1h-2zM838,352h1v1h-1zM294,353h1v1h-1zM667,353h2v1h-2zM838,353h1v1h-1zM293,354h1v1h-1zM669,354h3v1h-3zM837,354h1v1h-1zM292,355h1v1h-1zM672,355h2v1h-2zM837,355h1v1h-1zM291,356h1v1h-1zM674,356h3v1h-3zM836,356h1v1h-1zM290,357h1v1h-1zM677,357h2v1h-2zM835,357h1v1h-1zM290,358h1v1h-1zM679,358h3v1h-3zM835,358h1v1h-1zM289,359h1v1h-1zM682,359h2v1h-2zM834,359h1v1h-1zM288,360h1v1h-1zM684,360h3v1h-3zM833,360h1v1h-1zM287,361h1v1h-1zM687,361h2v1h-2zM833,361h1v1h-1zM286,362h1v1h-1zM689,362h2v1h-2zM832,362h1v1h-1zM285,363h1v1h-1zM691,363h2v1h-2zM831,363h1v1h-1zM284,364h1v1h-1zM693,364h2v1h-2zM831,364h1v1h-1zM283,365h1v1h-1zM695,365h3v1h-3zM830,365h1v1h-1zM281,366h2v1h-2zM698,366h2v1h-2zM829,366h1v1h-1zM280,367h1v1h-1zM700,367h2v1h-2zM828,367h1v1h-1zM279,368h1v1h-1zM702,368h2v1h-2zM827,368h1v1h-1zM278,369h1v1h-1zM704,369h2v1h-2zM826,369h1v1h-1zM277,370h1v1h-1zM706,370h1v1h-1zM825,370h1v1h-1zM276,371h1v1h-1zM707,371h2v1h-2zM824,371h1v1h-1zM275,372h1v1h-1zM709,372h1v1h-1zM824,372h1v1h-1zM274,373h1v1h-1zM710,373h1v1h-1zM823,373h1v1h-1zM273,374h1v1h-1zM711,374h2v1h-2zM822,374h1v1h-1zM272,375h1v1h-1zM713,375h1v1h-1zM821,375h1v1h-1zM270,376h2v1h-2zM714,376h1v1h-1zM820,376h1v1h-1zM269,377h1v1h-1zM715,377h2v1h-2zM819,377h1v1h-1zM268,378h1v1h-1zM717,378h1v1h-1zM818,378h1v1h-1zM267,379h1v1h-1zM718,379h1v1h-1zM817,379h1v1h-1zM266,380h1v1h-1zM719,380h2v1h-2zM816,380h1v1h-1zM264,381h2v1h-2zM721,381h1v1h-1zM815,381h1v1h-1zM262,382h2v1h-2zM722,382h1v1h-1zM814,382h1v1h-1zM260,383h2v1h-2zM723,383h2v1h-2zM813,383h1v1h-1zM258,384h2v1h-2zM725,384h1v1h-1zM812,384h1v1h-1zM256,385h2v1h-2zM726,385h1v1h-1zM811,385h1v1h-1zM255,386h1v1h-1zM727,386h2v1h-2zM811,386h1v1h-1zM254,387h1v1h-1zM729,387h1v1h-1zM810,387h1v1h-1zM252,388h2v1h-2zM730,388h1v1h-1zM809,388h1v1h-1zM251,389h1v1h-1zM731,389h2v1h-2zM808,389h1v1h-1zM250,390h1v1h-1zM733,390h1v1h-1zM807,390h1v1h-1zM249,391h1v1h-1zM734,391h2v1h-2zM806,391h1v1h-1zM247,392h2v1h-2zM736,392h1v1h-1zM805,392h1v1h-1zM246,393h1v1h-1zM737,393h2v1h-2zM804,393h1v1h-1zM245,394h1v1h-1zM739,394h1v1h-1zM803,394h1v1h-1zM243,395h2v1h-2zM740,395h2v1h-2zM802,395h1v1h-1zM242,396h1v1h-1zM742,396h1v1h-1zM800,396h2v1h-2zM240,397h2v1h-2zM743,397h2v1h-2zM799,397h1v1h-1zM239,398h1v1h-1zM745,398h1v1h-1zM798,398h1v1h-1zM237,399h2v1h-2zM746,399h2v1h-2zM797,399h1v1h-1zM236,400h1v1h-1zM748,400h1v1h-1zM796,400h1v1h-1zM234,401h2v1h-2zM749,401h2v1h-2zM795,401h1v1h-1zM233,402h1v1h-1zM751,402h1v1h-1zM794,402h1v1h-1zM231,403h2v1h-2zM752,403h2v1h-2zM793,403h1v1h-1zM230,404h1v1h-1zM754,404h1v1h-1zM792,404h1v1h-1zM228,405h2v1h-2zM755,405h2v1h-2zM790,405h2v1h-2zM227,406h1v1h-1zM757,406h2v1h-2zM789,406h1v1h-1zM225,407h2v1h-2zM759,407h1v1h-1zM788,407h1v1h-1zM224,408h1v1h-1zM760,408h2v1h-2zM787,408h1v1h-1zM222,409h2v1h-2zM762,409h4v1h-4zM786,409h1v1h-1zM118,410h4v1h-4zM221,410h1v1h-1zM766,410h8v1h-8zM782,410h4v1h-4zM113,411h5v1h-5zM122,411h2v1h-2zM219,411h2v1h-2zM774,411h8v1h-8zM108,412h5v1h-5zM124,412h3v1h-3zM218,412h1v1h-1zM104,413h4v1h-4zM127,413h2v1h-2zM216,413h2v1h-2zM100,414h4v1h-4zM129,414h3v1h-3zM214,414h2v1h-2zM98,415h2v1h-2zM132,415h3v1h-3zM212,415h2v1h-2zM96,416h2v1h-2zM135,416h3v1h-3zM209,416h3v1h-3zM94,417h2v1h-2zM138,417h3v1h-3zM207,417h2v1h-2zM93,418h1v1h-1zM141,418h3v1h-3zM204,418h3v1h-3zM91,419h2v1h-2zM144,419h3v1h-3zM202,419h2v1h-2zM89,420h2v1h-2zM147,420h4v1h-4zM198,420h4v1h-4zM88,421h1v1h-1zM151,421h4v1h-4zM194,421h4v1h-4zM87,422h1v1h-1zM155,422h4v1h-4zM189,422h5v1h-5zM86,423h1v1h-1zM159,423h3v1h-3zM185,423h4v1h-4zM85,424h1v1h-1zM162,424h3v1h-3zM179,424h6v1h-6zM84,425h1v1h-1zM165,425h4v1h-4zM173,425h6v1h-6zM83,426h1v1h-1zM169,426h4v1h-4zM82,427h1v1h-1zM81,428h1v1h-1zM80,429h1v1h-1zM79,430h1v1h-1zM78,431h1v1h-1zM77,432h1v1h-1zM76,433h1v1h-1zM75,434h1v1h-1zM74,435h1v1h-1zM73,436h1v1h-1zM72,437h1v1h-1zM71,438h1v1h-1zM70,439h1v1h-1zM68,440h2v1h-2zM67,441h1v1h-1zM66,442h1v1h-1zM65,443h1v1h-1zM64,444h1v1h-1zM63,445h1v1h-1zM62,446h1v1h-1zM61,447h1v1h-1zM60,448h1v1h-1zM59,449h1v1h-1zM58,450h1v1h-1zM57,451h1v1h-1zM56,452h1v1h-1zM56,453h1v1h-1zM55,454h1v1h-1zM54,455h1v1h-1zM53,456h1v1h-1zM52,457h1v1h-1zM51,458h1v1h-1zM50,459h1v1h-1zM49,460h1v1h-1zM48,461h1v1h-1zM47,462h1v1h-1zM46,463h1v1h-1zM44,464h2v1h-2zM43,465h1v1h-1zM42,466h1v1h-1zM41,467h1v1h-1zM40,468h1v1h-1zM39,469h1v1h-1zM38,470h1v1h-1zM37,471h1v1h-1zM36,472h1v1h-1zM35,473h1v1h-1zM34,474h1v1h-1zM33,475h1v1h-1zM31,476h2v1h-2zM30,477h1v1h-1zM29,478h1v1h-1zM28,479h1v1h-1zM27,480h1v1h-1zM26,481h1v1h-1zM25,482h1v1h-1zM23,483h2v1h-2zM21,484h2v1h-2zM20,485h1v1h-1zM18,486h2v1h-2zM17,487h1v1h-1zM15,488h2v1h-2zM13,489h2v1h-2zM12,490h1v1h-1zM10,491h2v1h-2zM9,492h1v1h-1zM8,493h1v1h-1zM6,494h2v1h-2zM5,495h1v1h-1zM4,496h1v1h-1zM2,497h2v1h-2zM1,498h1v1h-1zM0,499h1v1h-1z" fill="#FFA500"/>
<path d="M1316,185h10v1h-10zM1309,186h7v1h-7zM1326,186h4v1h-4zM1305,187h4v1h-4zM1301,188h4v1h-4zM1297,189h4v1h-4zM1294,190h3v1h-3zM1292,191h2v1h-2zM1289,192h3v1h-3zM1287,193h2v1h-2zM1284,194h3v1h-3zM1282,195h2v1h-2zM1279,196h3v1h-3zM1277,197h2v1h-2zM1274,198h3v1h-3zM1272,199h2v1h-2zM1269,200h3v1h-3zM1267,201h2v1h-2zM1264,202h3v1h-3zM1262,203h2v1h-2zM1259,204h3v1h-3zM1256,205h3v1h-3zM1253,206h3v1h-3zM1250,207h3v1h-3zM1247,208h3v1h-3zM1244,209h3v1h-3zM1240,210h4v1h-4zM1237,211h3v1h-3zM1234,212h3v1h-3zM1231,213h3v1h-3zM1227,214h4v1h-4zM1224,215h3v1h-3zM1221,216h3v1h-3zM1219,217h2v1h-2zM1216,218h3v1h-3zM1214,219h2v1h-2zM1212,220h2v1h-2zM1209,221h3v1h-3zM1207,222h2v1h-2zM1204,223h3v1h-3zM1202,224h2v1h-2zM1200,225h2v1h-2zM1197,226h3v1h-3zM1195,227h2v1h-2zM1193,228h2v1h-2zM1191,229h2v1h-2zM1189,230h2v1h-2zM1187,231h2v1h-2zM1185,232h2v1h-2zM1183,233h2v1h-2zM1181,234h2v1h-2zM1179,235h2v1h-2zM1177,236h2v1h-2zM1175,237h2v1h-2zM1173,238h2v1h-2zM1172,239h1v1h-1zM1170,240h2v1h-2zM1168,241h2v1h-2zM1166,242h2v1h-2zM1165,243h1v1h-1zM1163,244h2v1h-2zM1161,245h2v1h-2zM1160,246h1v1h-1zM1158,247h2v1h-2zM1157,248h1v1h-1zM1156,249h1v1h-1zM1154,250h2v1h-2zM1153,251h1v1h-1zM1152,252h1v1h-1zM1150,253h2v1h-2zM1149,254h1v1h-1zM1148,255h1v1h-1zM1146,256h2v1h-2zM1145,257h1v1h-1zM1143,258h2v1h-2zM1142,259h1v1h-1zM1141,260h1v1h-1zM1139,261h2v1h-2zM1138,262h1v1h-1zM1136,263h2v1h-2zM1135,264h1v1h-1zM1133,265h2v1h-2zM1131,266h2v1h-2zM1130,267h1v1h-1zM1128,268h2v1h-2zM1127,269h1v1h-1zM1125,270h2v1h-2zM1123,271h2v1h-2zM1122,272h1v1h-1zM1121,273h1v1h-1zM1119,274h2v1h-2zM1118,275h1v1h-1zM1117,276h1v1h-1zM1116,277h1v1h-1zM1115,278h1v1h-1zM1113,279h2v1h-2zM1112,280h1v1h-1zM1111,281h1v1h-1zM1110,282h1v1h-1zM1108,283h2v1h-2zM1107,284h1v1h-1zM1106,285h1v1h-1zM1104,286h2v1h-2zM1103,287h1v1h-1zM1102,288h1v1h-1zM1100,289h2v1h-2zM1099,290h1v1h-1zM1098,291h1v1h-1zM1097,292h1v1h-1zM1095,293h2v1h-2zM1094,294h1v1h-1zM1093,295h1v1h-1zM1091,296h2v1h-2zM1090,297h1v1h-1zM1089,298h1v1h-1zM1087,299h2v1h-2zM1086,300h1v1h-1zM1085,301h1v1h-1zM1084,302h1v1h-1zM1082,303h2v1h-2zM1081,304h1v1h-1zM1080,305h1v1h-1zM1078,306h2v1h-2zM1077,307h1v1h-1zM1076,308h1v1h-1zM1074,309h2v1h-2zM1073,310h1v1h-1zM1071,311h2v1h-2zM1069,312h2v1h-2zM1067,313h2v1h-2zM1065,314h2v1h-2zM1063,315h2v1h-2zM1007,316h13v1h-13zM1061,316h2v1h-2zM989,317h18v1h-18zM1020,317h10v1h-10zM1048,317h13v1h-13zM602,318h21v1h-21zM978,318h11v1h-11zM1030,318h18v1h-18zM596,319h6v1h-6zM623,319h6v1h-6zM973,319h5v1h-5zM591,320h5v1h-5zM629,320h6v1h-6zM968,320h5v1h-5zM589,321h2v1h-2zM635,321h5v1h-5zM963,321h5v1h-5zM587,322h2v1h-2zM640,322h4v1h-4zM959,322h4v1h-4zM585,323h2v1h-2zM644,323h3v1h-3zM955,323h4v1h-4zM583,324h2v1h-2zM647,324h3v1h-3zM951,324h4v1h-4zM581,325h2v1h-2zM650,325h4v1h-4zM946,325h5v1h-5zM579,326h2v1h-2zM654,326h4v1h-4zM942,326h4v1h-4zM577,327h2v1h-2zM658,327h4v1h-4zM937,327h5v1h-5zM574,328h3v1h-3zM662,328h4v1h-4zM868,328h16v1h-16zM933,328h4v1h-4zM572,329h2v1h-2zM666,329h4v1h-4zM857,329h11v1h-11zM884,329h49v1h-49zM569,330h3v1h-3zM670,330h4v1h-4zM850,330h7v1h-7zM567,331h2v1h-2zM674,331h4v1h-4zM844,331h6v1h-6zM564,332h3v1h-3zM678,332h4v1h-4zM839,332h5v1h-5zM562,333h2v1h-2zM682,333h4v1h-4zM836,333h3v1h-3zM559,334h3v1h-3zM686,334h3v1h-3zM833,334h3v1h-3zM557,335h2v1h-2zM689,335h4v1h-4zM829,335h4v1h-4zM554,336h3v1h-3zM693,336h4v1h-4zM826,336h3v1h-3zM552,337h2v1h-2zM697,337h3v1h-3zM823,337h3v1h-3zM550,338h2v1h-2zM700,338h4v1h-4zM820,338h3v1h-3zM548,339h2v1h-2zM704,339h4v1h-4zM817,339h3v1h-3zM546,340h2v1h-2zM708,340h5v1h-5zM813,340h4v1h-4zM544,341h2v1h-2zM713,341h5v1h-5zM809,341h4v1h-4zM542,342h2v1h-2zM718,342h5v1h-5zM805,342h4v1h-4zM540,343h2v1h-2zM723,343h5v1h-5zM802,343h3v1h-3zM535,344h5v1h-5zM728,344h4v1h-4zM798,344h4v1h-4zM529,345h6v1h-6zM732,345h3v1h-3zM794,345h4v1h-4zM522,346h7v1h-7zM735,346h3v1h-3zM790,346h4v1h-4zM515,347h7v1h-7zM738,347h3v1h-3zM786,347h4v1h-4zM509,348h6v1h-6zM741,348h3v1h-3zM782,348h4v1h-4zM503,349h6v1h-6zM744,349h10v1h-10zM771,349h11v1h-11zM497,350h6v1h-6zM754,350h17v1h-17zM491,351h6v1h-6zM487,352h4v1h-4zM485,353h2v1h-2zM482,354h3v1h-3zM480,355h2v1h-2zM477,356h3v1h-3zM475,357h2v1h-2zM472,358h3v1h-3zM470,359h2v1h-2zM467,360h3v1h-3zM465,361h2v1h-2zM462,362h3v1h-3zM459,363h3v1h-3zM457,364h2v1h-2zM454,365h3v1h-3zM451,366h3v1h-3zM447,367h4v1h-4zM444,368h3v1h-3zM439,369h5v1h-5zM433,370h6v1h-6zM427,371h6v1h-6zM421,372h6v1h-6zM415,373h6v1h-6zM410,374h5v1h-5zM406,375h4v1h-4zM402,376h4v1h-4zM398,377h4v1h-4zM394,378h4v1h-4zM390,379h4v1h-4zM385,380h5v1h-5zM379,381h6v1h-6zM374,382h5v1h-5zM371,383h3v1h-3zM367,384h4v1h-4zM364,385h3v1h-3zM362,386h2v1h-2zM360,387h2v1h-2zM359,388h1v1h-1zM357,389h2v1h-2zM356,390h1v1h-1zM354,391h2v1h-2zM353,392h1v1h-1zM351,393h2v1h-2zM349,394h2v1h-2zM347,395h2v1h-2zM345,396h2v1h-2zM343,397h2v1h-2zM341,398h2v1h-2zM339,399h2v1h-2zM337,400h2v1h-2zM335,401h2v1h-2zM333,402h2v1h-2zM331,403h2v1h-2zM329,404h2v1h-2zM327,405h2v1h-2zM324,406h3v1h-3zM322,407h2v1h-2zM320,408h2v1h-2zM318,409h2v1h-2zM316,410h2v1h-2zM314,411h2v1h-2zM312,412h2v1h-2zM310,413h2v1h-2zM309,414h1v1h-1zM307,415h2v1h-2zM306,416h1v1h-1zM304,417h2v1h-2zM303,418h1v1h-1zM301,419h2v1h-2zM299,420h2v1h-2zM297,421h2v1h-2zM295,422h2v1h-2zM293,423h2v1h-2zM291,424h2v1h-2zM289,425h2v1h-2zM287,426h2v1h-2zM285,427h2v1h-2zM282,428h3v1h-3zM279,429h3v1h-3zM277,430h2v1h-2zM274,431h3v1h-3zM272,432h2v1h-2zM269,433h3v1h-3zM266,434h3v1h-3zM264,435h2v1h-2zM261,436h3v1h-3zM258,437h3v1h-3zM255,438h3v1h-3zM252,439h3v1h-3zM249,440h3v1h-3zM246,441h3v1h-3zM243,442h3v1h-3zM240,443h3v1h-3zM236,444h4v1h-4zM233,445h3v1h-3zM230,446h3v1h-3zM227,447h3v1h-3zM224,448h3v1h-3zM222,449h2v1h-2zM220,450h2v1h-2zM218,451h2v1h-2zM215,452h3v1h-3zM213,453h2v1h-2zM211,454h2v1h-2zM208,455h3v1h-3zM206,456h2v1h-2zM204,457h2v1h-2zM202,458h2v1h-2zM199,459h3v1h-3zM197,460h2v1h-2zM195,461h2v1h-2zM193,462h2v1h-2zM190,463h3v1h-3zM188,464h2v1h-2zM186,465h2v1h-2zM183,466h3v1h-3zM181,467h2v1h-2zM179,468h2v1h-2zM177,469h2v1h-2zM174,470h3v1h-3zM172,471h2v1h-2zM170,472h2v1h-2zM168,473h2v1h-2zM166,474h2v1h-2zM164,475h2v1h-2zM161,476h3v1h-3zM159,477h2v1h-2zM156,478h3v1h-3zM154,479h2v1h-2zM152,480h2v1h-2zM144,481h8v1h-8zM132,482h12v1h-12zM113,483h19v1h-19zM94,484h19v1h-19zM82,485h12v1h-12zM72,486h10v1h-10zM66,487h6v1h-6zM60,488h6v1h-6zM54,489h6v1h-6zM48,490h6v1h-6zM44,491h4v1h-4zM40,492h4v1h-4zM36,493h4v1h-4zM32,494h4v1h-4zM28,495h4v1h-4zM24,496h4v1h-4zM21,497h3v1h-3zM18,498h3v1h-3zM15,499h3v1h-3zM11,500h4v1h-4zM8,501h3v1h-3zM5,502h3v1h-3zM2,503h3v1h-3zM0,504h2v1h-2z" fill="#FF00FF"/>
<rect x="1" y="88" width="1681" height="2" fill="#FF0000"/>
<rect x="1" y="256" width="1681" height="1" fill="#778899"/>
<rect x="1" y="289" width="1681" height="2" fill="#32CD32"/>
<rect x="1" y="389" width="1681" height="2" fill="#4169E1"/>
<rect x="1" y="490" width="1681" height="2" fill="#4169E1"/>
<rect x="1675" y="186" width="6" height="6" fill="#FF0000"/>
<rect x="1677" y="188" width="2" height="2" fill="#fff"/>
<rect x="1675" y="287" width="6" height="6" fill="#32CD32"/>
<rect x="1677" y="289" width="2" height="2" fill="#fff"/>
<polygon points="1339,6 1348.5,6 1343.75,11" fill="#708090" shape-rendering="auto"/>
<rect x="1" y="540" width="1" height="72" fill="#C0C0C0"/>
<rect x="9" y="534" width="1" height="78" fill="#C0C0C0"/>
<rect x="17" y="535" width="1" height="77" fill="#C0C0C0"/>
<rect x="25" y="536" width="1" height="76" fill="#C0C0C0"/>
<rect x="33" y="537" width="1" height="75" fill="#C0C0C0"/>
<rect x="41" y="544" width="1" height="68" fill="#C0C0C0"/>
<rect x="49" y="550" width="1" height="62" fill="#C0C0C0"/>
<rect x="57" y="558" width="1" height="54" fill="#C0C0C0"/>
<rect x="65" y="568" width="1" height="44" fill="#C0C0C0"/>
<rect x="73" y="576" width="1" height="36" fill="#C0C0C0"/>
<rect x="81" y="582" width="1" height="30" fill="#C0C0C0"/>
<rect x="89" y="585" width="1" height="27" fill="#C0C0C0"/>
<rect x="97" y="584" width="1" height="28" fill="#C0C0C0"/>
<rect x="105" y="595" width="1" height="17" fill="#C0C0C0"/>
<rect x="113" y="601" width="1" height="11" fill="#C0C0C0"/>
<rect x="121" y="604" width="1" height="8" fill="#C0C0C0"/>
<rect x="129" y="608" width="1" height="4" fill="#C0C0C0"/>
<rect x="137" y="611" width="1" height="1" fill="#C0C0C0"/>
<rect x="145" y="611" width="1" height="1" fill="#C0C0C0"/>
<rect x="153" y="608" width="1" height="4" fill="#C0C0C0"/>
<rect x="161" y="598" width="1" height="14" fill="#C0C0C0"/>
<rect x="169" y="590" width="1" height="22" fill="#C0C0C0"/>
<rect x="177" y="582" width="1" height="30" fill="#C0C0C0"/>
<rect x="185" y="576" width="1" height="36" fill="#C0C0C0"/>
<rect x="193" y="571" width="1" height="41" fill="#C0C0C0"/>
<rect x="201" y="568" width="1" height="44" fill="#C0C0C0"/>
<rect x="209" y="563" width="1" height="49" fill="#C0C0C0"/>
<rect x="217" y="561" width="1" height="51" fill="#C0C0C0"/>
<rect x="225" y="561" width="1" height="51" fill="#C0C0C0"/>
<rect x="233" y="558" width="1" height="54" fill="#C0C0C0"/>
<rect x="241" y="558" width="1" height="54" fill="#C0C0C0"/>
<rect x="249" y="561" width="1" height="51" fill="#C0C0C0"/>
<rect x="257" y="558" width="1" height="54" fill="#C0C0C0"/>
<rect x="265" y="560" width="1" height="52" fill="#C0C0C0"/>
<rect x="273" y="559" width="1" height="53" fill="#C0C0C0"/>
<rect x="281" y="561" width="1" height="51" fill="#C0C0C0"/>
<rect x="289" y="558" width="1" height="54" fill="#C0C0C0"/>
<rect x="297" y="554" width="1" height="58" fill="#C0C0C0"/>
<rect x="305" y="558" width="1" height="54" fill="#C0C0C0"/>
<rect x="313" y="565" width="1" height="47" fill="#C0C0C0"/>
<rect x="321" y="572" width="1" height="40" fill="#C0C0C0"/>
<rect x="329" y="578" width="1" height="34" fill="#C0C0C0"/>
<rect x="337" y="584" width="1" height="28" fill="#C0C0C0"/>
<rect x="345" y="597" width="1" height="15" fill="#C0C0C0"/>
<rect x="353" y="604" width="1" height="8" fill="#C0C0C0"/>
<rect x="361" y="605" width="1" height="7" fill="#C0C0C0"/>
<rect x="369" y="606" width="1" height="6" fill="#C0C0C0"/>
<rect x="377" y="610" width="1" height="2" fill="#C0C0C0"/>
<rect x="385" y="611" width="1" height="4" fill="#C0C0C0"/>
<rect x="393" y="611" width="1" height="5" fill="#C0C0C0"/>
<rect x="401" y="611" width="1" height="1" fill="#C0C0C0"/>
<rect x="409" y="603" width="1" height="9" fill="#C0C0C0"/>
<rect x="417" y="595" width="1" height="17" fill="#C0C0C0"/>
<rect x="425" y="587" width="1" height="25" fill="#C0C0C0"/>
<rect x="433" y="582" width="1" height="30" fill="#C0C0C0"/>
<rect x="441" y="575" width="1" height="37" fill="#C0C0C0"/>
<rect x="449" y="569" width="1" height="43" fill="#C0C0C0"/>
<rect x="457" y="559" width="1" height="53" fill="#C0C0C0"/>
<rect x="465" y="551" width="1" height="61" fill="#C0C0C0"/>
<rect x="473" y="548" width="1" height="64" fill="#C0C0C0"/>
<rect x="481" y="547" width="1" height="65" fill="#C0C0C0"/>
<rect x="489" y="549" width="1" height="63" fill="#C0C0C0"/>
<rect x="497" y="570" width="1" height="42" fill="#C0C0C0"/>
<rect x="505" y="587" width="1" height="25" fill="#C0C0C0"/>
<rect x="513" y="599" width="1" height="13" fill="#C0C0C0"/>
<rect x="521" y="608" width="1" height="4" fill="#C0C0C0"/>
<rect x="529" y="611" width="1" height="2" fill="#C0C0C0"/>
<rect x="537" y="611" width="1" height="8" fill="#C0C0C0"/>
<rect x="545" y="611" width="1" height="3" fill="#C0C0C0"/>
<rect x="553" y="611" width="1" height="1" fill="#C0C0C0"/>
<rect x="561" y="609" width="1" height="3" fill="#C0C0C0"/>
<rect x="569" y="606" width="1" height="6" fill="#C0C0C0"/>
<rect x="577" y="605" width="1" height="7" fill="#C0C0C0"/>
<rect x="585" y="600" width="1" height="12" fill="#C0C0C0"/>
<rect x="593" y="591" width="1" height="21" fill="#C0C0C0"/>
<rect x="601" y="595" width="1" height="17" fill="#C0C0C0"/>
<rect x="609" y="600" width="1" height="12" fill="#C0C0C0"/>
<rect x="617" y="607" width="1" height="5" fill="#C0C0C0"/>
<rect x="625" y="611" width="1" height="6" fill="#C0C0C0"/>
<rect x="633" y="611" width="1" height="18" fill="#C0C0C0"/>
<rect x="641" y="611" width="1" height="34" fill="#C0C0C0"/>
<rect x="649" y="611" width="1" height="48" fill="#C0C0C0"/>
<rect x="657" y="611" width="1" height="55" fill="#C0C0C0"/>
<rect x="665" y="611" width="1" height="59" fill="#C0C0C0"/>
<rect x="673" y="611" width="1" height="64" fill="#C0C0C0"/>
<rect x="681" y="611" width="1" height="64" fill="#C0C0C0"/>
<rect x="689" y="611" width="1" height="67" fill="#C0C0C0"/>
<rect x="697" y="611" width="1" height="62" fill="#C0C0C0"/>
<rect x="705" y="611" width="1" height="59" fill="#C0C0C0"/>
<rect x="713" y="611" width="1" height="58" fill="#C0C0C0"/>
<rect x="721" y="611" width="1" height="55" fill="#C0C0C0"/>
<rect x="729" y="611" width="1" height="47" fill="#C0C0C0"/>
<rect x="737" y="611" width="1" height="46" fill="#C0C0C0"/>
<rect x="745" y="611" width="1" height="38" fill="#C0C0C0"/>
<rect x="753" y="611" width="1" height="30" fill="#C0C0C0"/>
<rect x="761" y="611" width="1" height="20" fill="#C0C0C0"/>
<rect x="769" y="611" width="1" height="9" fill="#C0C0C0"/>
<rect x="777" y="611" width="1" height="3" fill="#C0C0C0"/>
<rect x="785" y="605" width="1" height="7" fill="#C0C0C0"/>
<rect x="793" y="589" width="1" height="23" fill="#C0C0C0"/>
<rect x="801" y="577" width="1" height="35" fill="#C0C0C0"/>
<rect x="809" y="570" width="1" height="42" fill="#C0C0C0"/>
<rect x="817" y="566" width="1" height="46" fill="#C0C0C0"/>
<rect x="825" y="564" width="1" height="48" fill="#C0C0C0"/>
<rect x="833" y="556" width="1" height="56" fill="#C0C0C0"/>
<rect x="841" y="547" width="1" height="65" fill="#C0C0C0"/>
<rect x="849" y="543" width="1" height="69" fill="#C0C0C0"/>
<rect x="857" y="541" width="1" height="71" fill="#C0C0C0"/>
<rect x="865" y="539" width="1" height="73" fill="#C0C0C0"/>
<rect x="873" y="541" width="1" height="71" fill="#C0C0C0"/>
<rect x="881" y="551" width="1" height="61" fill="#C0C0C0"/>
<rect x="889" y="554" width="1" height="58" fill="#C0C0C0"/>
<rect x="897" y="557" width="1" height="55" fill="#C0C0C0"/>
<rect x="905" y="556" width="1" height="56" fill="#C0C0C0"/>
<rect x="913" y="555" width="1" height="57" fill="#C0C0C0"/>
<rect x="921" y="558" width="1" height="54" fill="#C0C0C0"/>
<rect x="929" y="563" width="1" height="49" fill="#C0C0C0"/>
<rect x="937" y="570" width="1" height="42" fill="#C0C0C0"/>
<rect x="945" y="577" width="1" height="35" fill="#C0C0C0"/>
<rect x="953" y="581" width="1" height="31" fill="#C0C0C0"/>
<rect x="961" y="582" width="1" height="30" fill="#C0C0C0"/>
<rect x="969" y="583" width="1" height="29" fill="#C0C0C0"/>
<rect x="977" y="587" width="1" height="25" fill="#C0C0C0"/>
<rect x="985" y="590" width="1" height="22" fill="#C0C0C0"/>
<rect x="993" y="592" width="1" height="20" fill="#C0C0C0"/>
<rect x="1001" y="597" width="1" height="15" fill="#C0C0C0"/>
<rect x="1009" y="601" width="1" height="11" fill="#C0C0C0"/>
<rect x="1017" y="607" width="1" height="5" fill="#C0C0C0"/>
<rect x="1025" y="606" width="1" height="6" fill="#C0C0C0"/>
<rect x="1033" y="610" width="1" height="2" fill="#C0C0C0"/>
<rect x="1041" y="611" width="1" height="1" fill="#C0C0C0"/>
<rect x="1049" y="611" width="1" height="6" fill="#C0C0C0"/>
<rect x="1057" y="611" width="1" height="10" fill="#C0C0C0"/>
<rect x="1065" y="611" width="1" height="8" fill="#C0C0C0"/>
<rect x="1073" y="599" width="1" height="13" fill="#C0C0C0"/>
<rect x="1081" y="578" width="1" height="34" fill="#C0C0C0"/>
<rect x="1089" y="567" width="1" height="45" fill="#C0C0C0"/>
<rect x="1097" y="557" width="1" height="55" fill="#C0C0C0"/>
<rect x="1105" y="550" width="1" height="62" fill="#C0C0C0"/>
<rect x="1113" y="546" width="1" height="66" fill="#C0C0C0"/>
<rect x="1121" y="536" width="1" height="76" fill="#C0C0C0"/>
<rect x="1129" y="535" width="1" height="77" fill="#C0C0C0"/>
<rect x="1137" y="537" width="1" height="75" fill="#C0C0C0"/>
<rect x="1145" y="537" width="1" height="75" fill="#C0C0C0"/>
<rect x="1153" y="541" width="1" height="71" fill="#C0C0C0"/>
<rect x="1161" y="550" width="1" height="62" fill="#C0C0C0"/>
<rect x="1169" y="556" width="1" height="56" fill="#C0C0C0"/>
<rect x="1177" y="563" width="1" height="49" fill="#C0C0C0"/>
<rect x="1185" y="567" width="1" height="45" fill="#C0C0C0"/>
<rect x="1193" y="569" width="1" height="43" fill="#C0C0C0"/>
<rect x="1201" y="569" width="1" height="43" fill="#C0C0C0"/>
<rect x="1209" y="570" width="1" height="42" fill="#C0C0C0"/>
<rect x="1217" y="575" width="1" height="37" fill="#C0C0C0"/>
<rect x="1225" y="575" width="1" height="37" fill="#C0C0C0"/>
<rect x="1233" y="571" width="1" height="41" fill="#C0C0C0"/>
<rect x="1241" y="569" width="1" height="43" fill="#C0C0C0"/>
<rect x="1249" y="570" width="1" height="42" fill="#C0C0C0"/>
<rect x="1257" y="574" width="1" height="38" fill="#C0C0C0"/>
<rect x="1265" y="569" width="1" height="43" fill="#C0C0C0"/>
<rect x="1273" y="561" width="1" height="51" fill="#C0C0C0"/>
<rect x="1281" y="557" width="1" height="55" fill="#C0C0C0"/>
<rect x="1289" y="558" width="1" height="54" fill="#C0C0C0"/>
<rect x="1297" y="561" width="1" height="51" fill="#C0C0C0"/>
<rect x="1305" y="565" width="1" height="47" fill="#C0C0C0"/>
<rect x="1313" y="577" width="1" height="35" fill="#C0C0C0"/>
<rect x="1321" y="600" width="1" height="12" fill="#C0C0C0"/>
<rect x="1329" y="611" width="1" height="6" fill="#C0C0C0"/>
<path d="M49,540h3v1h-3zM55,540h3v1h-3zM44,542h2v1h-2zM61,542h3v1h-3zM1166,542h3v1h-3zM43,543h1v1h-1zM67,543h1v1h-1zM1160,543h3v1h-3zM1172,543h3v1h-3zM68,544h2v1h-2zM1155,544h2v1h-2zM1178,544h2v1h-2zM39,545h1v1h-1zM1154,545h1v1h-1zM1180,545h1v1h-1zM37,546h2v1h-2zM1150,546h1v1h-1zM1184,546h2v1h-2zM73,547h1v1h-1zM1148,547h2v1h-2zM1186,547h1v1h-1zM33,548h1v1h-1zM74,548h1v1h-1zM888,548h1v1h-1zM892,548h3v1h-3zM898,548h3v1h-3zM904,548h3v1h-3zM910,548h3v1h-3zM916,548h1v1h-1zM32,549h1v1h-1zM75,549h1v1h-1zM886,549h2v1h-2zM917,549h2v1h-2zM1190,549h2v1h-2zM31,550h1v1h-1zM880,550h3v1h-3zM922,550h2v1h-2zM1192,550h1v1h-1zM79,551h1v1h-1zM876,551h1v1h-1zM924,551h1v1h-1zM1143,551h2v1h-2zM1196,551h1v1h-1zM80,552h2v1h-2zM874,552h2v1h-2zM928,552h2v1h-2zM1142,552h1v1h-1zM1197,552h2v1h-2zM870,553h1v1h-1zM930,553h1v1h-1zM27,554h1v1h-1zM868,554h2v1h-2zM934,554h3v1h-3zM1202,554h3v1h-3zM26,555h1v1h-1zM85,555h1v1h-1zM25,556h1v1h-1zM86,556h1v1h-1zM864,556h1v1h-1zM940,556h1v1h-1zM1138,556h1v1h-1zM1208,556h1v1h-1zM87,557h1v1h-1zM863,557h1v1h-1zM941,557h2v1h-2zM1137,557h1v1h-1zM1209,557h2v1h-2zM295,558h3v1h-3zM301,558h3v1h-3zM862,558h1v1h-1zM1136,558h1v1h-1zM283,559h3v1h-3zM289,559h3v1h-3zM307,559h3v1h-3zM313,559h3v1h-3zM946,559h1v1h-1zM1214,559h1v1h-1zM22,560h1v1h-1zM91,560h1v1h-1zM271,560h3v1h-3zM277,560h3v1h-3zM319,560h3v1h-3zM858,560h1v1h-1zM947,560h2v1h-2zM1215,560h2v1h-2zM21,561h1v1h-1zM92,561h2v1h-2zM259,561h3v1h-3zM265,561h3v1h-3zM325,561h2v1h-2zM499,561h3v1h-3zM505,561h1v1h-1zM856,561h2v1h-2zM20,562h1v1h-1zM253,562h3v1h-3zM327,562h1v1h-1zM493,562h3v1h-3zM506,562h2v1h-2zM511,562h2v1h-2zM952,562h2v1h-2zM1132,562h1v1h-1zM1220,562h2v1h-2zM249,563h1v1h-1zM331,563h3v1h-3zM488,563h2v1h-2zM513,563h1v1h-1zM954,563h1v1h-1zM1132,563h1v1h-1zM1222,563h1v1h-1zM247,564h2v1h-2zM487,564h1v1h-1zM958,564h1v1h-1zM1131,564h1v1h-1zM1305,564h2v1h-2zM1310,564h2v1h-2zM97,565h2v1h-2zM337,565h2v1h-2zM517,565h1v1h-1zM852,565h1v1h-1zM959,565h2v1h-2zM1226,565h3v1h-3zM1298,565h3v1h-3zM1304,565h1v1h-1zM1312,565h1v1h-1zM17,566h1v1h-1zM99,566h1v1h-1zM242,566h2v1h-2zM339,566h1v1h-1zM483,566h1v1h-1zM518,566h2v1h-2zM851,566h1v1h-1zM1292,566h3v1h-3zM1316,566h1v1h-1zM16,567h1v1h-1zM241,567h1v1h-1zM482,567h1v1h-1zM850,567h1v1h-1zM964,567h3v1h-3zM1232,567h3v1h-3zM1286,567h3v1h-3zM1317,567h2v1h-2zM15,568h1v1h-1zM237,568h1v1h-1zM343,568h1v1h-1zM481,568h1v1h-1zM970,568h1v1h-1zM1127,568h1v1h-1zM1238,568h1v1h-1zM1280,568h3v1h-3zM103,569h2v1h-2zM235,569h2v1h-2zM344,569h2v1h-2zM523,569h2v1h-2zM971,569h2v1h-2zM1126,569h1v1h-1zM1239,569h2v1h-2zM1268,569h3v1h-3zM1274,569h3v1h-3zM1322,569h1v1h-1zM105,570h1v1h-1zM525,570h1v1h-1zM846,570h1v1h-1zM1125,570h1v1h-1zM1244,570h3v1h-3zM1250,570h3v1h-3zM1256,570h3v1h-3zM1262,570h3v1h-3zM1323,570h2v1h-2zM231,571h1v1h-1zM349,571h1v1h-1zM476,571h2v1h-2zM845,571h1v1h-1zM976,571h1v1h-1zM12,572h1v1h-1zM229,572h2v1h-2zM350,572h1v1h-1zM475,572h1v1h-1zM844,572h1v1h-1zM977,572h2v1h-2zM1328,572h1v1h-1zM11,573h1v1h-1zM109,573h1v1h-1zM351,573h1v1h-1zM10,574h1v1h-1zM110,574h1v1h-1zM225,574h1v1h-1zM529,574h1v1h-1zM982,574h1v1h-1zM1121,574h1v1h-1zM111,575h1v1h-1zM223,575h2v1h-2zM355,575h1v1h-1zM530,575h1v1h-1zM983,575h2v1h-2zM1120,575h1v1h-1zM356,576h1v1h-1zM471,576h1v1h-1zM531,576h1v1h-1zM840,576h1v1h-1zM1119,576h1v1h-1zM357,577h1v1h-1zM470,577h1v1h-1zM839,577h1v1h-1zM7,578h1v1h-1zM115,578h2v1h-2zM219,578h1v1h-1zM469,578h1v1h-1zM839,578h1v1h-1zM988,578h2v1h-2zM6,579h1v1h-1zM117,579h1v1h-1zM218,579h1v1h-1zM361,579h1v1h-1zM535,579h1v1h-1zM990,579h1v1h-1zM5,580h1v1h-1zM217,580h1v1h-1zM362,580h1v1h-1zM536,580h1v1h-1zM1116,580h1v1h-1zM363,581h1v1h-1zM465,581h1v1h-1zM537,581h1v1h-1zM994,581h2v1h-2zM1115,581h1v1h-1zM121,582h1v1h-1zM213,582h1v1h-1zM464,582h1v1h-1zM835,582h1v1h-1zM996,582h1v1h-1zM1114,582h1v1h-1zM122,583h1v1h-1zM212,583h1v1h-1zM367,583h1v1h-1zM463,583h1v1h-1zM834,583h1v1h-1zM1000,583h2v1h-2zM2,584h1v1h-1zM123,584h1v1h-1zM211,584h1v1h-1zM368,584h2v1h-2zM833,584h1v1h-1zM1002,584h1v1h-1zM1,585h1v1h-1zM541,585h2v1h-2zM1006,585h1v1h-1zM0,586h1v1h-1zM206,586h2v1h-2zM459,586h1v1h-1zM543,586h1v1h-1zM1007,586h2v1h-2zM1110,586h1v1h-1zM127,587h1v1h-1zM205,587h1v1h-1zM373,587h2v1h-2zM458,587h1v1h-1zM1109,587h1v1h-1zM128,588h2v1h-2zM375,588h1v1h-1zM457,588h1v1h-1zM830,588h1v1h-1zM1012,588h3v1h-3zM1108,588h1v1h-1zM201,589h1v1h-1zM829,589h1v1h-1zM133,590h1v1h-1zM200,590h1v1h-1zM547,590h2v1h-2zM828,590h1v1h-1zM1018,590h2v1h-2zM134,591h2v1h-2zM199,591h1v1h-1zM379,591h2v1h-2zM453,591h1v1h-1zM549,591h1v1h-1zM1020,591h1v1h-1zM381,592h1v1h-1zM452,592h1v1h-1zM1024,592h2v1h-2zM1104,592h1v1h-1zM195,593h1v1h-1zM451,593h1v1h-1zM1026,593h1v1h-1zM1103,593h1v1h-1zM139,594h2v1h-2zM193,594h2v1h-2zM825,594h1v1h-1zM1030,594h1v1h-1zM1102,594h1v1h-1zM141,595h1v1h-1zM385,595h1v1h-1zM553,595h1v1h-1zM824,595h1v1h-1zM1031,595h2v1h-2zM189,596h1v1h-1zM386,596h2v1h-2zM446,596h2v1h-2zM554,596h1v1h-1zM823,596h1v1h-1zM145,597h2v1h-2zM187,597h2v1h-2zM445,597h1v1h-1zM555,597h1v1h-1zM1036,597h1v1h-1zM1098,597h1v1h-1zM147,598h1v1h-1zM1037,598h2v1h-2zM1096,598h2v1h-2zM183,599h1v1h-1zM391,599h2v1h-2zM441,599h1v1h-1zM151,600h2v1h-2zM181,600h2v1h-2zM393,600h1v1h-1zM439,600h2v1h-2zM559,600h1v1h-1zM820,600h1v1h-1zM1042,600h1v1h-1zM153,601h1v1h-1zM177,601h1v1h-1zM435,601h1v1h-1zM560,601h1v1h-1zM819,601h1v1h-1zM1043,601h2v1h-2zM1091,601h2v1h-2zM157,602h3v1h-3zM163,602h3v1h-3zM175,602h2v1h-2zM397,602h1v1h-1zM433,602h2v1h-2zM561,602h1v1h-1zM613,602h3v1h-3zM619,602h3v1h-3zM625,602h3v1h-3zM818,602h1v1h-1zM1090,602h1v1h-1zM169,603h3v1h-3zM398,603h2v1h-2zM429,603h1v1h-1zM609,603h1v1h-1zM1048,603h1v1h-1zM427,604h2v1h-2zM565,604h1v1h-1zM607,604h2v1h-2zM631,604h2v1h-2zM1049,604h2v1h-2zM1086,604h1v1h-1zM403,605h2v1h-2zM566,605h2v1h-2zM633,605h1v1h-1zM1084,605h2v1h-2zM405,606h1v1h-1zM422,606h2v1h-2zM601,606h3v1h-3zM815,606h1v1h-1zM1054,606h1v1h-1zM409,607h3v1h-3zM415,607h3v1h-3zM421,607h1v1h-1zM571,607h1v1h-1zM597,607h1v1h-1zM637,607h2v1h-2zM814,607h1v1h-1zM1055,607h2v1h-2zM572,608h2v1h-2zM595,608h2v1h-2zM639,608h1v1h-1zM813,608h1v1h-1zM1078,608h3v1h-3zM577,609h3v1h-3zM589,609h3v1h-3zM1060,609h3v1h-3zM1073,609h2v1h-2zM583,610h3v1h-3zM1066,610h3v1h-3zM1072,610h1v1h-1zM643,611h1v1h-1zM644,612h2v1h-2zM809,612h1v1h-1zM808,613h1v1h-1zM808,614h1v1h-1zM649,615h1v1h-1zM650,616h1v1h-1zM651,617h1v1h-1zM804,618h1v1h-1zM803,619h1v1h-1zM802,620h1v1h-1zM655,621h1v1h-1zM656,622h1v1h-1zM657,623h1v1h-1zM799,624h1v1h-1zM798,625h1v1h-1zM797,626h1v1h-1zM661,627h1v1h-1zM662,628h1v1h-1zM663,629h1v1h-1zM793,630h1v1h-1zM792,631h1v1h-1zM791,632h1v1h-1zM667,633h1v1h-1zM668,634h1v1h-1zM669,635h1v1h-1zM787,636h1v1h-1zM786,637h1v1h-1zM785,638h1v1h-1zM672,639h1v1h-1zM673,640h1v1h-1zM674,641h1v1h-1zM781,642h1v1h-1zM780,643h1v1h-1zM779,644h1v1h-1zM678,645h1v1h-1zM679,646h1v1h-1zM680,647h1v1h-1zM774,647h2v1h-2zM773,648h1v1h-1zM683,651h1v1h-1zM769,651h1v1h-1zM684,652h1v1h-1zM768,652h1v1h-1zM685,653h1v1h-1zM767,653h1v1h-1zM763,655h1v1h-1zM762,656h1v1h-1zM689,657h1v1h-1zM761,657h1v1h-1zM690,658h2v1h-2zM756,660h2v1h-2zM695,661h1v1h-1zM755,661h1v1h-1zM696,662h1v1h-1zM697,663h1v1h-1zM751,663h1v1h-1zM749,664h2v1h-2zM701,665h1v1h-1zM702,666h2v1h-2zM745,666h1v1h-1zM743,667h2v1h-2zM707,668h2v1h-2zM739,668h1v1h-1zM709,669h1v1h-1zM733,669h1v1h-1zM737,669h2v1h-2zM713,670h3v1h-3zM725,670h3v1h-3zM731,670h2v1h-2zM719,671h3v1h-3z" fill="#FF0000"/>
<path d="M2,726h3v1h-3zM8,726h3v1h-3zM14,726h3v1h-3zM20,726h3v1h-3zM26,726h3v1h-3zM32,726h3v1h-3zM38,726h3v1h-3zM44,726h3v1h-3zM50,726h3v1h-3zM56,726h3v1h-3zM62,726h3v1h-3zM68,726h3v1h-3zM74,726h3v1h-3zM80,726h3v1h-3zM86,726h3v1h-3zM92,726h3v1h-3zM98,726h3v1h-3zM104,726h3v1h-3zM110,726h3v1h-3zM116,726h3v1h-3zM122,726h3v1h-3zM128,726h3v1h-3zM134,726h3v1h-3zM140,726h3v1h-3zM146,726h3v1h-3zM152,726h3v1h-3zM158,726h3v1h-3zM164,726h3v1h-3zM170,726h3v1h-3zM176,726h3v1h-3zM182,726h3v1h-3zM188,726h3v1h-3zM194,726h3v1h-3zM200,726h3v1h-3zM206,726h3v1h-3zM212,726h3v1h-3zM218,726h3v1h-3zM224,726h3v1h-3zM230,726h3v1h-3zM236,726h3v1h-3zM242,726h3v1h-3zM248,726h3v1h-3zM254,726h3v1h-3zM260,726h3v1h-3zM266,726h3v1h-3zM272,726h3v1h-3zM278,726h3v1h-3zM284,726h3v1h-3zM290,726h3v1h-3zM296,726h3v1h-3zM302,726h3v1h-3zM308,726h3v1h-3zM314,726h3v1h-3zM320,726h3v1h-3zM326,726h3v1h-3zM332,726h3v1h-3zM338,726h3v1h-3zM344,726h3v1h-3zM350,726h3v1h-3zM356,726h3v1h-3zM362,726h3v1h-3zM368,726h3v1h-3zM374,726h3v1h-3zM380,726h3v1h-3zM386,726h3v1h-3zM392,726h3v1h-3zM398,726h3v1h-3zM404,726h3v1h-3zM410,726h3v1h-3zM416,726h3v1h-3zM422,726h3v1h-3zM428,726h3v1h-3zM434,726h3v1h-3zM440,726h3v1h-3zM446,726h3v1h-3zM452,726h3v1h-3zM458,726h3v1h-3zM464,726h3v1h-3zM470,726h3v1h-3zM476,726h3v1h-3zM482,726h3v1h-3zM488,726h3v1h-3zM494,726h3v1h-3zM500,726h3v1h-3zM506,726h3v1h-3zM512,726h3v1h-3zM518,726h3v1h-3zM524,726h3v1h-3zM530,726h3v1h-3zM536,726h3v1h-3zM542,726h3v1h-3zM548,726h3v1h-3zM554,726h3v1h-3zM560,726h3v1h-3zM566,726h3v1h-3zM572,726h3v1h-3zM578,726h3v1h-3zM584,726h3v1h-3zM590,726h3v1h-3zM596,726h3v1h-3zM602,726h3v1h-3zM608,726h3v1h-3zM614,726h3v1h-3zM620,726h3v1h-3zM626,726h3v1h-3zM632,726h3v1h-3zM638,726h3v1h-3zM644,726h3v1h-3zM650,726h3v1h-3zM656,726h3v1h-3zM662,726h3v1h-3zM668,726h3v1h-3zM674,726h3v1h-3zM680,726h3v1h-3zM686,726h3v1h-3zM692,726h3v1h-3zM698,726h3v1h-3zM704,726h3v1h-3zM710,726h3v1h-3zM716,726h3v1h-3zM722,726h3v1h-3zM728,726h3v1h-3zM734,726h3v1h-3zM740,726h3v1h-3zM746,726h3v1h-3zM752,726h3v1h-3zM758,726h3v1h-3zM764,726h3v1h-3zM770,726h3v1h-3zM776,726h3v1h-3zM782,726h3v1h-3zM788,726h3v1h-3zM794,726h3v1h-3zM800,726h3v1h-3zM806,726h3v1h-3zM812,726h3v1h-3zM818,726h3v1h-3zM824,726h3v1h-3zM830,726h3v1h-3zM836,726h3v1h-3zM842,726h3v1h-3zM848,726h3v1h-3zM854,726h3v1h-3zM860,726h3v1h-3zM866,726h3v1h-3zM872,726h3v1h-3zM878,726h3v1h-3zM884,726h3v1h-3zM890,726h3v1h-3zM896,726h3v1h-3zM902,726h3v1h-3zM908,726h3v1h-3zM914,726h3v1h-3zM920,726h3v1h-3zM926,726h3v1h-3zM932,726h3v1h-3zM938,726h3v1h-3zM944,726h3v1h-3zM950,726h3v1h-3zM956,726h3v1h-3zM962,726h3v1h-3zM968,726h3v1h-3zM974,726h3v1h-3zM980,726h3v1h-3zM986,726h3v1h-3zM992,726h3v1h-3zM998,726h3v1h-3zM1004,726h3v1h-3zM1010,726h3v1h-3zM1016,726h3v1h-3zM1022,726h3v1h-3zM1028,726h3v1h-3zM1034,726h3v1h-3zM1040,726h3v1h-3zM1046,726h3v1h-3zM1052,726h3v1h-3zM1058,726h3v1h-3zM1064,726h3v1h-3zM1070,726h3v1h-3zM1076,726h3v1h-3zM1082,726h3v1h-3zM1088,726h3v1h-3zM1094,726h3v1h-3zM1100,726h3v1h-3zM1106,726h3v1h-3zM1112,726h3v1h-3zM1118,726h3v1h-3zM1124,726h3v1h-3zM1130,726h3v1h-3zM1136,726h3v1h-3zM1142,726h3v1h-3zM1148,726h3v1h-3zM1154,726h3v1h-3zM1160,726h3v1h-3zM1166,726h3v1h-3zM1172,726h3v1h-3zM1178,726h3v1h-3zM1184,726h3v1h-3zM1190,726h3v1h-3zM1196,726h3v1h-3zM1202,726h3v1h-3zM1208,726h3v1h-3zM1214,726h3v1h-3zM1220,726h3v1h-3zM1226,726h3v1h-3zM1232,726h3v1h-3zM1238,726h3v1h-3zM1244,726h3v1h-3zM1250,726h3v1h-3zM1256,726h3v1h-3zM1262,726h3v1h-3zM1268,726h3v1h-3zM1274,726h3v1h-3zM1280,726h3v1h-3zM1286,726h3v1h-3zM1292,726h3v1h-3zM1298,726h3v1h-3zM1304,726h3v1h-3zM1310,726h3v1h-3zM1316,726h3v1h-3zM1322,726h3v1h-3zM1328,726h3v1h-3zM1334,726h3v1h-3zM1340,726h3v1h-3zM1346,726h3v1h-3zM1352,726h3v1h-3zM1358,726h3v1h-3zM1364,726h3v1h-3zM1370,726h3v1h-3zM1376,726h3v1h-3zM1382,726h3v1h-3zM1388,726h3v1h-3zM1394,726h3v1h-3zM1400,726h3v1h-3zM1406,726h3v1h-3zM1412,726h3v1h-3zM1418,726h3v1h-3zM1424,726h3v1h-3zM1430,726h3v1h-3zM1436,726h3v1h-3zM1442,726h3v1h-3zM1448,726h3v1h-3zM1454,726h3v1h-3zM1460,726h3v1h-3zM1466,726h3v1h-3zM1472,726h3v1h-3zM1478,726h3v1h-3zM1484,726h3v1h-3zM1490,726h3v1h-3zM1496,726h3v1h-3zM1502,726h3v1h-3zM1508,726h3v1h-3zM1514,726h3v1h-3zM1520,726h3v1h-3zM1526,726h3v1h-3zM1532,726h3v1h-3zM1538,726h3v1h-3zM1544,726h3v1h-3zM1550,726h3v1h-3zM1556,726h3v1h-3zM1562,726h3v1h-3zM1568,726h3v1h-3zM1574,726h3v1h-3zM1580,726h3v1h-3zM1586,726h3v1h-3zM1592,726h3v1h-3zM1598,726h3v1h-3zM1604,726h3v1h-3zM1610,726h3v1h-3zM1616,726h3v1h-3zM1622,726h3v1h-3zM1628,726h3v1h-3zM1634,726h3v1h-3zM1640,726h3v1h-3zM1646,726h3v1h-3zM1652,726h3v1h-3zM1658,726h3v1h-3zM1664,726h3v1h-3zM1670,726h3v1h-3zM1676,726h3v1h-3zM2,774h3v1h-3zM8,774h3v1h-3zM14,774h3v1h-3zM20,774h3v1h-3zM26,774h3v1h-3zM32,774h3v1h-3zM38,774h3v1h-3zM44,774h3v1h-3zM50,774h3v1h-3zM56,774h3v1h-3zM62,774h3v1h-3zM68,774h3v1h-3zM74,774h3v1h-3zM80,774h3v1h-3zM86,774h3v1h-3zM92,774h3v1h-3zM98,774h3v1h-3zM104,774h3v1h-3zM110,774h3v1h-3zM116,774h3v1h-3zM122,774h3v1h-3zM128,774h3v1h-3zM134,774h3v1h-3zM140,774h3v1h-3zM146,774h3v1h-3zM152,774h3v1h-3zM158,774h3v1h-3zM164,774h3v1h-3zM170,774h3v1h-3zM176,774h3v1h-3zM182,774h3v1h-3zM188,774h3v1h-3zM194,774h3v1h-3zM200,774h3v1h-3zM206,774h3v1h-3zM212,774h3v1h-3zM218,774h3v1h-3zM224,774h3v1h-3zM230,774h3v1h-3zM236,774h3v1h-3zM242,774h3v1h-3zM248,774h3v1h-3zM254,774h3v1h-3zM260,774h3v1h-3zM266,774h3v1h-3zM272,774h3v1h-3zM278,774h3v1h-3zM284,774h3v1h-3zM290,774h3v1h-3zM296,774h3v1h-3zM302,774h3v1h-3zM308,774h3v1h-3zM314,774h3v1h-3zM320,774h3v1h-3zM326,774h3v1h-3zM332,774h3v1h-3zM338,774h3v1h-3zM344,774h3v1h-3zM350,774h3v1h-3zM356,774h3v1h-3zM362,774h3v1h-3zM368,774h3v1h-3zM374,774h3v1h-3zM380,774h3v1h-3zM386,774h3v1h-3zM392,774h3v1h-3zM398,774h3v1h-3zM404,774h3v1h-3zM410,774h3v1h-3zM416,774h3v1h-3zM422,774h3v1h-3zM428,774h3v1h-3zM434,774h3v1h-3zM440,774h3v1h-3zM446,774h3v1h-3zM452,774h3v1h-3zM458,774h3v1h-3zM464,774h3v1h-3zM470,774h3v1h-3zM476,774h3v1h-3zM482,774h3v1h-3zM488,774h3v1h-3zM494,774h3v1h-3zM500,774h3v1h-3zM506,774h3v1h-3zM512,774h3v1h-3zM518,774h3v1h-3zM524,774h3v1h-3zM530,774h3v1h-3zM536,774h3v1h-3zM542,774h3v1h-3zM548,774h3v1h-3zM554,774h3v1h-3zM560,774h3v1h-3zM566,774h3v1h-3zM572,774h3v1h-3zM578,774h3v1h-3zM584,774h3v1h-3zM590,774h3v1h-3zM596,774h3v1h-3zM602,774h3v1h-3zM608,774h3v1h-3zM614,774h3v1h-3zM620,774h3v1h-3zM626,774h3v1h-3zM632,774h3v1h-3zM638,774h3v1h-3zM644,774h3v1h-3zM650,774h3v1h-3zM656,774h3v1h-3zM662,774h3v1h-3zM668,774h3v1h-3zM674,774h3v1h-3zM680,774h3v1h-3zM686,774h3v1h-3zM692,774h3v1h-3zM698,774h3v1h-3zM704,774h3v1h-3zM710,774h3v1h-3zM716,774h3v1h-3zM722,774h3v1h-3zM728,774h3v1h-3zM734,774h3v1h-3zM740,774h3v1h-3zM746,774h3v1h-3zM752,774h3v1h-3zM758,774h3v1h-3zM764,774h3v1h-3zM770,774h3v1h-3zM776,774h3v1h-3zM782,774h3v1h-3zM788,774h3v1h-3zM794,774h3v1h-3zM800,774h3v1h-3zM806,774h3v1h-3zM812,774h3v1h-3zM818,774h3v1h-3zM824,774h3v1h-3zM830,774h3v1h-3zM836,774h3v1h-3zM842,774h3v1h-3zM848,774h3v1h-3zM854,774h3v1h-3zM860,774h3v1h-3zM866,774h3v1h-3zM872,774h3v1h-3zM878,774h3v1h-3zM884,774h3v1h-3zM890,774h3v1h-3zM896,774h3v1h-3zM902,774h3v1h-3zM908,774h3v1h-3zM914,774h3v1h-3zM920,774h3v1h-3zM926,774h3v1h-3zM932,774h3v1h-3zM938,774h3v1h-3zM944,774h3v1h-3zM950,774h3v1h-3zM956,774h3v1h-3zM962,774h3v1h-3zM968,774h3v1h-3zM974,774h3v1h-3zM980,774h3v1h-3zM986,774h3v1h-3zM992,774h3v1h-3zM998,774h3v1h-3zM1004,774h3v1h-3zM1010,774h3v1h-3zM1016,774h3v1h-3zM1022,774h3v1h-3zM1028,774h3v1h-3zM1034,774h3v1h-3zM1040,774h3v1h-3zM1046,774h3v1h-3zM1052,774h3v1h-3zM1058,774h3v1h-3zM1064,774h3v1h-3zM1070,774h3v1h-3zM1076,774h3v1h-3zM1082,774h3v1h-3zM1088,774h3v1h-3zM1094,774h3v1h-3zM1100,774h3v1h-3zM1106,774h3v1h-3zM1112,774h3v1h-3zM1118,774h3v1h-3zM1124,774h3v1h-3zM1130,774h3v1h-3zM1136,774h3v1h-3zM1142,774h3v1h-3zM1148,774h3v1h-3zM1154,774h3v1h-3zM1160,774h3v1h-3zM1166,774h3v1h-3zM1172,774h3v1h-3zM1178,774h3v1h-3zM1184,774h3v1h-3zM1190,774h3v1h-3zM1196,774h3v1h-3zM1202,774h3v1h-3zM1208,774h3v1h-3zM1214,774h3v1h-3zM1220,774h3v1h-3zM1226,774h3v1h-3zM1232,774h3v1h-3zM1238,774h3v1h-3zM1244,774h3v1h-3zM1250,774h3v1h-3zM1256,774h3v1h-3zM1262,774h3v1h-3zM1268,774h3v1h-3zM1274,774h3v1h-3zM1280,774h3v1h-3zM1286,774h3v1h-3zM1292,774h3v1h-3zM1298,774h3v1h-3zM1304,774h3v1h-3zM1310,774h3v1h-3zM1316,774h3v1h-3zM1322,774h3v1h-3zM1328,774h3v1h-3zM1334,774h3v1h-3zM1340,774h3v1h-3zM1346,774h3v1h-3zM1352,774h3v1h-3zM1358,774h3v1h-3zM1364,774h3v1h-3zM1370,774h3v1h-3zM1376,774h3v1h-3zM1382,774h3v1h-3zM1388,774h3v1h-3zM1394,774h3v1h-3zM1400,774h3v1h-3zM1406,774h3v1h-3zM1412,774h3v1h-3zM1418,774h3v1h-3zM1424,774h3v1h-3zM1430,774h3v1h-3zM1436,774h3v1h-3zM1442,774h3v1h-3zM1448,774h3v1h-3zM1454,774h3v1h-3zM1460,774h3v1h-3zM1466,774h3v1h-3zM1472,774h3v1h-3zM1478,774h3v1h-3zM1484,774h3v1h-3zM1490,774h3v1h-3zM1496,774h3v1h-3zM1502,774h3v1h-3zM1508,774h3v1h-3zM1514,774h3v1h-3zM1520,774h3v1h-3zM1526,774h3v1h-3zM1532,774h3v1h-3zM1538,774h3v1h-3zM1544,774h3v1h-3zM1550,774h3v1h-3zM1556,774h3v1h-3zM1562,774h3v1h-3zM1568,774h3v1h-3zM1574,774h3v1h-3zM1580,774h3v1h-3zM1586,774h3v1h-3zM1592,774h3v1h-3zM1598,774h3v1h-3zM1604,774h3v1h-3zM1610,774h3v1h-3zM1616,774h3v1h-3zM1622,774h3v1h-3zM1628,774h3v1h-3zM1634,774h3v1h-3zM1640,774h3v1h-3zM1646,774h3v1h-3zM1652,774h3v1h-3zM1658,774h3v1h-3zM1664,774h3v1h-3zM1670,774h3v1h-3zM1676,774h3v1h-3z" fill="#C0C0C0"/>
<path d="M1,719h1v1h-1zM2,720h1v1h-1zM3,721h1v1h-1zM4,722h1v1h-1zM5,723h1v1h-1zM5,724h1v1h-1zM463,724h3v1h-3zM1080,724h2v1h-2zM1121,724h1v1h-1zM6,725h1v1h-1zM459,725h4v1h-4zM466,725h1v1h-1zM1078,725h2v1h-2zM1082,725h1v1h-1zM1119,725h2v1h-2zM1122,725h1v1h-1zM7,726h1v1h-1zM456,726h3v1h-3zM467,726h2v1h-2zM1076,726h2v1h-2zM1083,726h1v1h-1zM1118,726h1v1h-1zM1122,726h1v1h-1zM8,727h1v1h-1zM454,727h2v1h-2zM469,727h1v1h-1zM1074,727h2v1h-2zM1084,727h1v1h-1zM1117,727h1v1h-1zM1123,727h1v1h-1zM9,728h1v1h-1zM452,728h2v1h-2zM470,728h1v1h-1zM840,728h2v1h-2zM1073,728h1v1h-1zM1085,728h1v1h-1zM1115,728h2v1h-2zM1124,728h1v1h-1zM10,729h2v1h-2zM209,729h2v1h-2zM450,729h2v1h-2zM471,729h2v1h-2zM838,729h2v1h-2zM842,729h2v1h-2zM1073,729h1v1h-1zM1086,729h1v1h-1zM1114,729h1v1h-1zM1125,729h1v1h-1zM12,730h1v1h-1zM207,730h2v1h-2zM211,730h4v1h-4zM232,730h2v1h-2zM296,730h2v1h-2zM447,730h3v1h-3zM473,730h2v1h-2zM836,730h2v1h-2zM844,730h2v1h-2zM1072,730h1v1h-1zM1087,730h1v1h-1zM1095,730h4v1h-4zM1111,730h3v1h-3zM1125,730h1v1h-1zM13,731h2v1h-2zM205,731h2v1h-2zM215,731h4v1h-4zM230,731h2v1h-2zM234,731h2v1h-2zM294,731h2v1h-2zM298,731h1v1h-1zM443,731h4v1h-4zM475,731h2v1h-2zM834,731h2v1h-2zM846,731h2v1h-2zM1072,731h1v1h-1zM1088,731h1v1h-1zM1091,731h4v1h-4zM1099,731h4v1h-4zM1107,731h4v1h-4zM1126,731h1v1h-1zM1272,731h3v1h-3zM15,732h2v1h-2zM189,732h6v1h-6zM204,732h1v1h-1zM219,732h2v1h-2zM228,732h2v1h-2zM236,732h2v1h-2zM257,732h1v1h-1zM292,732h2v1h-2zM298,732h1v1h-1zM440,732h3v1h-3zM477,732h3v1h-3zM793,732h9v1h-9zM833,732h1v1h-1zM848,732h18v1h-18zM1072,732h1v1h-1zM1089,732h2v1h-2zM1103,732h4v1h-4zM1127,732h1v1h-1zM1270,732h2v1h-2zM1275,732h2v1h-2zM17,733h2v1h-2zM175,733h14v1h-14zM195,733h4v1h-4zM202,733h2v1h-2zM221,733h3v1h-3zM226,733h2v1h-2zM238,733h2v1h-2zM256,733h1v1h-1zM258,733h1v1h-1zM290,733h2v1h-2zM299,733h1v1h-1zM438,733h2v1h-2zM480,733h3v1h-3zM792,733h1v1h-1zM802,733h2v1h-2zM831,733h2v1h-2zM866,733h2v1h-2zM1071,733h1v1h-1zM1128,733h1v1h-1zM1268,733h2v1h-2zM1277,733h3v1h-3zM19,734h2v1h-2zM31,734h3v1h-3zM171,734h4v1h-4zM199,734h3v1h-3zM224,734h2v1h-2zM240,734h2v1h-2zM255,734h1v1h-1zM259,734h2v1h-2zM289,734h1v1h-1zM300,734h1v1h-1zM436,734h2v1h-2zM483,734h4v1h-4zM791,734h1v1h-1zM804,734h2v1h-2zM830,734h1v1h-1zM868,734h2v1h-2zM1071,734h1v1h-1zM1128,734h1v1h-1zM1266,734h2v1h-2zM1280,734h2v1h-2zM21,735h3v1h-3zM27,735h4v1h-4zM34,735h1v1h-1zM165,735h6v1h-6zM242,735h1v1h-1zM254,735h1v1h-1zM261,735h1v1h-1zM272,735h2v1h-2zM287,735h2v1h-2zM300,735h1v1h-1zM421,735h8v1h-8zM434,735h2v1h-2zM487,735h3v1h-3zM593,735h1v1h-1zM790,735h1v1h-1zM806,735h2v1h-2zM829,735h1v1h-1zM870,735h2v1h-2zM1070,735h1v1h-1zM1129,735h2v1h-2zM1143,735h4v1h-4zM1265,735h1v1h-1zM1282,735h2v1h-2zM24,736h3v1h-3zM35,736h2v1h-2zM161,736h4v1h-4zM243,736h2v1h-2zM253,736h1v1h-1zM262,736h1v1h-1zM269,736h3v1h-3zM274,736h2v1h-2zM285,736h2v1h-2zM301,736h1v1h-1zM413,736h8v1h-8zM429,736h5v1h-5zM489,736h1v1h-1zM591,736h2v1h-2zM594,736h1v1h-1zM789,736h1v1h-1zM808,736h3v1h-3zM827,736h2v1h-2zM872,736h2v1h-2zM911,736h3v1h-3zM1070,736h1v1h-1zM1131,736h4v1h-4zM1139,736h4v1h-4zM1147,736h2v1h-2zM1233,736h2v1h-2zM1264,736h1v1h-1zM1284,736h2v1h-2zM37,737h1v1h-1zM160,737h1v1h-1zM245,737h1v1h-1zM252,737h1v1h-1zM263,737h2v1h-2zM267,737h2v1h-2zM276,737h2v1h-2zM284,737h1v1h-1zM302,737h1v1h-1zM409,737h4v1h-4zM490,737h1v1h-1zM590,737h1v1h-1zM594,737h1v1h-1zM788,737h1v1h-1zM811,737h4v1h-4zM826,737h1v1h-1zM874,737h1v1h-1zM907,737h4v1h-4zM914,737h1v1h-1zM1070,737h1v1h-1zM1135,737h4v1h-4zM1149,737h3v1h-3zM1231,737h2v1h-2zM1235,737h4v1h-4zM1264,737h1v1h-1zM1286,737h2v1h-2zM38,738h1v1h-1zM159,738h1v1h-1zM246,738h1v1h-1zM251,738h1v1h-1zM265,738h2v1h-2zM278,738h2v1h-2zM282,738h2v1h-2zM302,738h1v1h-1zM408,738h1v1h-1zM490,738h1v1h-1zM589,738h1v1h-1zM595,738h1v1h-1zM787,738h1v1h-1zM815,738h11v1h-11zM874,738h1v1h-1zM904,738h3v1h-3zM915,738h1v1h-1zM1069,738h1v1h-1zM1152,738h2v1h-2zM1230,738h1v1h-1zM1239,738h3v1h-3zM1263,738h1v1h-1zM1288,738h2v1h-2zM39,739h2v1h-2zM158,739h1v1h-1zM247,739h2v1h-2zM250,739h1v1h-1zM280,739h2v1h-2zM303,739h1v1h-1zM407,739h1v1h-1zM490,739h1v1h-1zM587,739h2v1h-2zM595,739h1v1h-1zM786,739h1v1h-1zM875,739h1v1h-1zM902,739h2v1h-2zM916,739h1v1h-1zM1069,739h1v1h-1zM1154,739h1v1h-1zM1229,739h1v1h-1zM1242,739h2v1h-2zM1262,739h1v1h-1zM1290,739h2v1h-2zM41,740h1v1h-1zM157,740h1v1h-1zM249,740h1v1h-1zM304,740h1v1h-1zM406,740h1v1h-1zM490,740h1v1h-1zM586,740h1v1h-1zM596,740h1v1h-1zM785,740h1v1h-1zM875,740h1v1h-1zM900,740h2v1h-2zM917,740h1v1h-1zM1069,740h1v1h-1zM1155,740h1v1h-1zM1227,740h2v1h-2zM1244,740h2v1h-2zM1261,740h1v1h-1zM1292,740h1v1h-1zM42,741h2v1h-2zM157,741h1v1h-1zM304,741h1v1h-1zM405,741h1v1h-1zM491,741h1v1h-1zM585,741h1v1h-1zM596,741h1v1h-1zM768,741h2v1h-2zM783,741h2v1h-2zM876,741h1v1h-1zM898,741h2v1h-2zM918,741h1v1h-1zM1068,741h1v1h-1zM1156,741h1v1h-1zM1205,741h5v1h-5zM1226,741h1v1h-1zM1246,741h2v1h-2zM1261,741h1v1h-1zM1293,741h2v1h-2zM44,742h1v1h-1zM97,742h1v1h-1zM156,742h1v1h-1zM305,742h1v1h-1zM405,742h1v1h-1zM491,742h1v1h-1zM584,742h1v1h-1zM597,742h1v1h-1zM766,742h2v1h-2zM770,742h2v1h-2zM781,742h2v1h-2zM877,742h1v1h-1zM889,742h9v1h-9zM919,742h1v1h-1zM1068,742h1v1h-1zM1157,742h1v1h-1zM1199,742h6v1h-6zM1210,742h1v1h-1zM1225,742h1v1h-1zM1248,742h2v1h-2zM1260,742h1v1h-1zM1295,742h2v1h-2zM45,743h2v1h-2zM95,743h2v1h-2zM98,743h1v1h-1zM155,743h1v1h-1zM306,743h1v1h-1zM404,743h1v1h-1zM491,743h1v1h-1zM583,743h1v1h-1zM597,743h1v1h-1zM764,743h2v1h-2zM772,743h2v1h-2zM780,743h1v1h-1zM877,743h1v1h-1zM888,743h1v1h-1zM920,743h1v1h-1zM1068,743h1v1h-1zM1157,743h1v1h-1zM1195,743h4v1h-4zM1211,743h2v1h-2zM1223,743h2v1h-2zM1250,743h2v1h-2zM1259,743h1v1h-1zM1297,743h4v1h-4zM47,744h2v1h-2zM94,744h1v1h-1zM98,744h1v1h-1zM154,744h1v1h-1zM307,744h2v1h-2zM403,744h1v1h-1zM491,744h1v1h-1zM567,744h3v1h-3zM581,744h2v1h-2zM598,744h1v1h-1zM762,744h2v1h-2zM774,744h2v1h-2zM778,744h2v1h-2zM878,744h1v1h-1zM887,744h1v1h-1zM921,744h2v1h-2zM960,744h3v1h-3zM1067,744h1v1h-1zM1158,744h1v1h-1zM1168,744h2v1h-2zM1191,744h4v1h-4zM1213,744h1v1h-1zM1221,744h2v1h-2zM1252,744h2v1h-2zM1258,744h1v1h-1zM1301,744h5v1h-5zM49,745h2v1h-2zM93,745h1v1h-1zM99,745h1v1h-1zM153,745h1v1h-1zM309,745h1v1h-1zM402,745h1v1h-1zM492,745h1v1h-1zM545,745h12v1h-12zM563,745h4v1h-4zM570,745h2v1h-2zM580,745h1v1h-1zM598,745h1v1h-1zM761,745h1v1h-1zM776,745h2v1h-2zM879,745h1v1h-1zM885,745h2v1h-2zM923,745h4v1h-4zM958,745h2v1h-2zM963,745h4v1h-4zM1067,745h1v1h-1zM1159,745h1v1h-1zM1165,745h3v1h-3zM1170,745h2v1h-2zM1187,745h4v1h-4zM1214,745h1v1h-1zM1220,745h1v1h-1zM1254,745h2v1h-2zM1258,745h1v1h-1zM1306,745h1v1h-1zM51,746h4v1h-4zM91,746h2v1h-2zM99,746h1v1h-1zM151,746h2v1h-2zM310,746h1v1h-1zM401,746h1v1h-1zM492,746h1v1h-1zM544,746h1v1h-1zM557,746h6v1h-6zM572,746h2v1h-2zM579,746h1v1h-1zM599,746h1v1h-1zM759,746h2v1h-2zM879,746h1v1h-1zM884,746h1v1h-1zM927,746h3v1h-3zM956,746h2v1h-2zM967,746h3v1h-3zM1025,746h1v1h-1zM1066,746h1v1h-1zM1160,746h1v1h-1zM1163,746h2v1h-2zM1172,746h2v1h-2zM1183,746h4v1h-4zM1215,746h2v1h-2zM1218,746h2v1h-2zM1256,746h2v1h-2zM1306,746h1v1h-1zM55,747h3v1h-3zM90,747h1v1h-1zM100,747h1v1h-1zM149,747h2v1h-2zM311,747h2v1h-2zM399,747h2v1h-2zM492,747h1v1h-1zM544,747h1v1h-1zM574,747h2v1h-2zM578,747h1v1h-1zM599,747h1v1h-1zM757,747h2v1h-2zM880,747h1v1h-1zM883,747h1v1h-1zM930,747h2v1h-2zM954,747h2v1h-2zM970,747h2v1h-2zM1024,747h1v1h-1zM1026,747h1v1h-1zM1066,747h1v1h-1zM1161,747h2v1h-2zM1174,747h2v1h-2zM1179,747h4v1h-4zM1217,747h1v1h-1zM1307,747h1v1h-1zM58,748h1v1h-1zM87,748h3v1h-3zM100,748h1v1h-1zM148,748h1v1h-1zM313,748h2v1h-2zM398,748h1v1h-1zM493,748h1v1h-1zM543,748h1v1h-1zM576,748h2v1h-2zM600,748h1v1h-1zM756,748h1v1h-1zM880,748h1v1h-1zM882,748h1v1h-1zM932,748h2v1h-2zM952,748h2v1h-2zM972,748h2v1h-2zM983,748h11v1h-11zM1024,748h1v1h-1zM1027,748h1v1h-1zM1066,748h1v1h-1zM1176,748h3v1h-3zM1308,748h1v1h-1zM59,749h2v1h-2zM83,749h4v1h-4zM101,749h1v1h-1zM146,749h2v1h-2zM315,749h4v1h-4zM397,749h1v1h-1zM493,749h1v1h-1zM543,749h1v1h-1zM600,749h1v1h-1zM754,749h2v1h-2zM881,749h1v1h-1zM934,749h2v1h-2zM950,749h2v1h-2zM974,749h2v1h-2zM979,749h4v1h-4zM994,749h2v1h-2zM1023,749h1v1h-1zM1028,749h1v1h-1zM1065,749h1v1h-1zM1308,749h1v1h-1zM61,750h1v1h-1zM79,750h4v1h-4zM101,750h1v1h-1zM145,750h1v1h-1zM319,750h12v1h-12zM361,750h9v1h-9zM395,750h2v1h-2zM493,750h1v1h-1zM542,750h1v1h-1zM601,750h2v1h-2zM729,750h1v1h-1zM745,750h9v1h-9zM936,750h3v1h-3zM948,750h2v1h-2zM976,750h3v1h-3zM996,750h1v1h-1zM1022,750h1v1h-1zM1029,750h1v1h-1zM1065,750h1v1h-1zM1309,750h1v1h-1zM62,751h1v1h-1zM75,751h4v1h-4zM102,751h1v1h-1zM144,751h1v1h-1zM331,751h2v1h-2zM360,751h1v1h-1zM370,751h2v1h-2zM394,751h1v1h-1zM493,751h1v1h-1zM542,751h1v1h-1zM603,751h2v1h-2zM728,751h1v1h-1zM730,751h1v1h-1zM744,751h1v1h-1zM939,751h4v1h-4zM946,751h2v1h-2zM997,751h2v1h-2zM1022,751h1v1h-1zM1029,751h1v1h-1zM1064,751h1v1h-1zM1310,751h1v1h-1zM63,752h2v1h-2zM69,752h6v1h-6zM102,752h1v1h-1zM120,752h3v1h-3zM143,752h1v1h-1zM333,752h3v1h-3zM359,752h1v1h-1zM372,752h2v1h-2zM393,752h1v1h-1zM494,752h1v1h-1zM541,752h1v1h-1zM605,752h3v1h-3zM727,752h1v1h-1zM731,752h1v1h-1zM743,752h1v1h-1zM943,752h3v1h-3zM999,752h2v1h-2zM1021,752h1v1h-1zM1030,752h1v1h-1zM1063,752h1v1h-1zM1310,752h1v1h-1zM65,753h4v1h-4zM103,753h1v1h-1zM117,753h3v1h-3zM123,753h4v1h-4zM142,753h1v1h-1zM336,753h2v1h-2zM358,753h1v1h-1zM374,753h2v1h-2zM392,753h1v1h-1zM494,753h1v1h-1zM541,753h1v1h-1zM608,753h2v1h-2zM726,753h1v1h-1zM732,753h1v1h-1zM742,753h1v1h-1zM1001,753h4v1h-4zM1020,753h1v1h-1zM1031,753h1v1h-1zM1063,753h1v1h-1zM1311,753h1v1h-1zM103,754h1v1h-1zM115,754h2v1h-2zM127,754h3v1h-3zM141,754h1v1h-1zM338,754h1v1h-1zM357,754h1v1h-1zM376,754h2v1h-2zM391,754h1v1h-1zM494,754h1v1h-1zM540,754h1v1h-1zM610,754h2v1h-2zM725,754h1v1h-1zM733,754h1v1h-1zM741,754h1v1h-1zM1005,754h5v1h-5zM1020,754h1v1h-1zM1032,754h1v1h-1zM1062,754h1v1h-1zM1312,754h1v1h-1zM104,755h1v1h-1zM112,755h3v1h-3zM130,755h2v1h-2zM140,755h1v1h-1zM339,755h1v1h-1zM356,755h1v1h-1zM378,755h2v1h-2zM389,755h2v1h-2zM495,755h1v1h-1zM540,755h1v1h-1zM612,755h2v1h-2zM725,755h1v1h-1zM734,755h1v1h-1zM740,755h1v1h-1zM1010,755h2v1h-2zM1019,755h1v1h-1zM1033,755h4v1h-4zM1061,755h1v1h-1zM1312,755h1v1h-1zM104,756h1v1h-1zM109,756h3v1h-3zM132,756h2v1h-2zM139,756h1v1h-1zM340,756h1v1h-1zM355,756h1v1h-1zM380,756h1v1h-1zM388,756h1v1h-1zM495,756h1v1h-1zM539,756h1v1h-1zM614,756h2v1h-2zM697,756h2v1h-2zM724,756h1v1h-1zM735,756h1v1h-1zM739,756h1v1h-1zM1012,756h2v1h-2zM1018,756h1v1h-1zM1037,756h6v1h-6zM1060,756h1v1h-1zM1313,756h1v1h-1zM105,757h1v1h-1zM107,757h2v1h-2zM134,757h2v1h-2zM138,757h1v1h-1zM341,757h1v1h-1zM354,757h1v1h-1zM381,757h2v1h-2zM387,757h1v1h-1zM495,757h1v1h-1zM528,757h3v1h-3zM539,757h1v1h-1zM616,757h2v1h-2zM696,757h1v1h-1zM699,757h4v1h-4zM723,757h1v1h-1zM736,757h1v1h-1zM738,757h1v1h-1zM1014,757h2v1h-2zM1018,757h1v1h-1zM1043,757h4v1h-4zM1059,757h1v1h-1zM1314,757h1v1h-1zM105,758h2v1h-2zM136,758h2v1h-2zM341,758h1v1h-1zM352,758h2v1h-2zM383,758h2v1h-2zM386,758h1v1h-1zM495,758h1v1h-1zM525,758h3v1h-3zM531,758h2v1h-2zM538,758h1v1h-1zM618,758h1v1h-1zM696,758h1v1h-1zM703,758h3v1h-3zM722,758h1v1h-1zM737,758h1v1h-1zM1016,758h2v1h-2zM1047,758h4v1h-4zM1059,758h1v1h-1zM1314,758h1v1h-1zM342,759h1v1h-1zM350,759h2v1h-2zM385,759h1v1h-1zM496,759h1v1h-1zM523,759h2v1h-2zM533,759h3v1h-3zM538,759h1v1h-1zM619,759h2v1h-2zM695,759h1v1h-1zM706,759h2v1h-2zM720,759h2v1h-2zM1051,759h4v1h-4zM1058,759h1v1h-1zM1315,759h1v1h-1zM343,760h1v1h-1zM348,760h2v1h-2zM496,760h1v1h-1zM512,760h11v1h-11zM536,760h2v1h-2zM621,760h1v1h-1zM694,760h1v1h-1zM708,760h2v1h-2zM717,760h3v1h-3zM1055,760h3v1h-3zM1315,760h1v1h-1zM344,761h1v1h-1zM346,761h2v1h-2zM496,761h1v1h-1zM510,761h2v1h-2zM622,761h1v1h-1zM694,761h1v1h-1zM710,761h2v1h-2zM715,761h2v1h-2zM1316,761h1v1h-1zM345,762h1v1h-1zM496,762h1v1h-1zM508,762h2v1h-2zM623,762h2v1h-2zM693,762h1v1h-1zM712,762h3v1h-3zM1316,762h1v1h-1zM497,763h1v1h-1zM506,763h2v1h-2zM625,763h2v1h-2zM681,763h1v1h-1zM692,763h1v1h-1zM1317,763h1v1h-1zM497,764h9v1h-9zM627,764h2v1h-2zM679,764h2v1h-2zM682,764h2v1h-2zM692,764h1v1h-1zM1318,764h1v1h-1zM629,765h3v1h-3zM677,765h2v1h-2zM684,765h1v1h-1zM691,765h1v1h-1zM1318,765h1v1h-1zM632,766h2v1h-2zM663,766h4v1h-4zM676,766h1v1h-1zM685,766h2v1h-2zM690,766h1v1h-1zM1319,766h1v1h-1zM634,767h2v1h-2zM659,767h4v1h-4zM667,767h4v1h-4zM674,767h2v1h-2zM687,767h2v1h-2zM690,767h1v1h-1zM1319,767h1v1h-1zM636,768h1v1h-1zM657,768h2v1h-2zM671,768h3v1h-3zM689,768h1v1h-1zM1320,768h1v1h-1zM1327,768h3v1h-3zM637,769h2v1h-2zM655,769h2v1h-2zM1320,769h1v1h-1zM1323,769h4v1h-4zM639,770h2v1h-2zM654,770h1v1h-1zM1321,770h2v1h-2zM641,771h2v1h-2zM653,771h1v1h-1zM643,772h2v1h-2zM651,772h2v1h-2zM645,773h3v1h-3zM650,773h1v1h-1zM648,774h2v1h-2z" fill="#1E90FF"/>
<rect x="0" y="5" width="1682" height="1" fill="#000"/>
<rect x="0" y="5" width="1" height="807" fill="#000"/>
<rect x="1681" y="5" width="1" height="807" fill="#000"/>
<rect x="0" y="520" width="1682" height="1" fill="#000"/>
<rect x="0" y="522" width="1682" height="1" fill="#000"/>
<rect x="0" y="686" width="1682" height="1" fill="#000"/>
<rect x="0" y="688" width="1682" height="1" fill="#000"/>
<rect x="1" y="521" width="1680" height="1" fill="#fff"/>
<rect x="1" y="687" width="1680" height="1" fill="#fff"/>
<rect x="0" y="811" width="1682" height="1" fill="#000"/>
<rect x="0" y="186" width="6" height="6" fill="#FF0000"/>
<rect x="2" y="188" width="2" height="2" fill="#fff"/>
<rect x="0" y="287" width="6" height="6" fill="#32CD32"/>
<rect x="2" y="289" width="2" height="2" fill="#fff"/>
<rect x="1682" y="22" width="2" height="1" fill="#000"/>
<rect x="1682" y="55" width="2" height="1" fill="#000"/>
<rect x="1682" y="88" width="2" height="1" fill="#000"/>
<rect x="1682" y="121" width="2" height="1" fill="#000"/>
<rect x="1682" y="154" width="2" height="1" fill="#000"/>
<rect x="1682" y="187" width="2" height="1" fill="#000"/>
<rect x="1682" y="220" width="2" height="1" fill="#000"/>
<rect x="1682" y="253" width="2" height="1" fill="#000"/>
<rect x="1682" y="286" width="2" height="1" fill="#000"/>
<rect x="1682" y="319" width="2" height="1" fill="#000"/>
<rect x="1682" y="352" width="2" height="1" fill="#000"/>
<rect x="1682" y="385" width="2" height="1" fill="#000"/>
<rect x="1682" y="418" width="2" height="1" fill="#000"/>
<rect x="1682" y="451" width="2" height="1" fill="#000"/>
<rect x="1682" y="484" width="2" height="1" fill="#000"/>
<rect x="1682" y="517" width="2" height="1" fill="#000"/>
<rect x="1682" y="524" width="1" height="1" fill="#000"/>
<rect x="1682" y="611" width="1" height="1" fill="#000"/>
<rect x="1682" y="685" width="1" height="1" fill="#000"/>
<rect x="1682" y="690" width="1" height="1" fill="#000"/>
<rect x="1682" y="810" width="1" height="1" fill="#000"/>
<rect x="1" y="812" width="1" height="3" fill="#000"/>
<rect x="65" y="812" width="1" height="3" fill="#000"/>
<rect x="129" y="812" width="1" height="3" fill="#000"/>
<rect x="193" y="812" width="1" height="3" fill="#000"/>
<rect x="257" y="812" width="1" height="3" fill="#000"/>
<rect x="321" y="812" width="1" height="3" fill="#000"/>
<rect x="385" y="812" width="1" height="3" fill="#000"/>
<rect x="449" y="812" width="1" height="3" fill="#000"/>
<rect x="513" y="812" width="1" height="3" fill="#000"/>
<rect x="577" y="812" width="1" height="3" fill="#000"/>
<rect x="641" y="812" width="1" height="3" fill="#000"/>
<rect x="705" y="812" width="1" height="3" fill="#000"/>
<rect x="769" y="812" width="1" height="3" fill="#000"/>
<rect x="833" y="812" width="1" height="3" fill="#000"/>
<rect x="897" y="812" width="1" height="3" fill="#000"/>
<rect x="961" y="812" width="1" height="3" fill="#000"/>
<rect x="1025" y="812" width="1" height="3" fill="#000"/>
<rect x="1089" y="812" width="1" height="3" fill="#000"/>
<rect x="1153" y="812" width="1" height="3" fill="#000"/>
<rect x="1217" y="812" width="1" height="3" fill="#000"/>
<rect x="1281" y="812" width="1" height="3" fill="#000"/>
<polygon points="4,12 11.5,12 7.75,16" fill="#000" shape-rendering="auto"/>
</g>
<text x="1687.2" y="26" textLength="32.5" lengthAdjust="spacingAndGlyphs">1855.00</text>
<text x="1687.2" y="59" textLength="32.5" lengthAdjust="spacingAndGlyphs">1850.00</text>
<text x="1687.2" y="92" textLength="32.5" lengthAdjust="spacingAndGlyphs">1845.10</text>
<text x="1687.2" y="125" textLength="32.5" lengthAdjust="spacingAndGlyphs">1840.20</text>
<text x="1687.2" y="158" textLength="32.5" lengthAdjust="spacingAndGlyphs">1835.30</text>
<text x="1687.2" y="191" textLength="32.5" lengthAdjust="spacingAndGlyphs">1830.40</text>
<text x="1687.2" y="224" textLength="32.5" lengthAdjust="spacingAndGlyphs">1825.40</text>
<text x="1687.2" y="257" textLength="32.5" lengthAdjust="spacingAndGlyphs">1820.50</text>
<text x="1687.2" y="290" textLength="32.5" lengthAdjust="spacingAndGlyphs">1815.60</text>
<text x="1687.2" y="323" textLength="32.5" lengthAdjust="spacingAndGlyphs">1810.60</text>
<text x="1687.2" y="356" textLength="32.5" lengthAdjust="spacingAndGlyphs">1805.70</text>
<text x="1687.2" y="389" textLength="32.5" lengthAdjust="spacingAndGlyphs">1800.80</text>
<text x="1687.2" y="422" textLength="32.5" lengthAdjust="spacingAndGlyphs">1795.80</text>
<text x="1687.2" y="455" textLength="32.5" lengthAdjust="spacingAndGlyphs">1790.90</text>
<text x="1687.2" y="488" textLength="32.5" lengthAdjust="spacingAndGlyphs">1786.00</text>
<text x="1687.2" y="521" textLength="32.5" lengthAdjust="spacingAndGlyphs">1781.00</text>
<g shape-rendering="crispEdges">
<rect x="1683" y="83" width="38" height="11" fill="#FF0000"/>
<rect x="1683" y="183" width="38" height="11" fill="#FF0000"/>
<rect x="1683" y="251" width="38" height="11" fill="#000"/>
<rect x="1683" y="284" width="38" height="11" fill="#32CD32"/>
<rect x="1683" y="384" width="38" height="11" fill="#4169E1"/>
<rect x="1683" y="485" width="38" height="11" fill="#4169E1"/>
</g>
<text x="1687.2" y="92" textLength="32.5" lengthAdjust="spacingAndGlyphs" class="w">1845.00</text>
<text x="1687.2" y="192" textLength="32.5" lengthAdjust="spacingAndGlyphs" class="w">1830.00</text>
<text x="1687.2" y="260" textLength="32.5" lengthAdjust="spacingAndGlyphs" class="w">1820.00</text>
<text x="1687.2" y="293" textLength="32.5" lengthAdjust="spacingAndGlyphs" class="w">1815.00</text>
<text x="1687.2" y="393" textLength="32.5" lengthAdjust="spacingAndGlyphs" class="w">1800.00</text>
<text x="1687.2" y="494" textLength="32.5" lengthAdjust="spacingAndGlyphs" class="w">1785.00</text>
<text x="1685.2" y="533" textLength="22.518" lengthAdjust="spacingAndGlyphs">7.642</text>
<text x="1685.2" y="615" textLength="17.514" lengthAdjust="spacingAndGlyphs">0.00</text>
<text x="1685.2" y="683" textLength="25.515" lengthAdjust="spacingAndGlyphs">-6.509</text>
<text x="1685.2" y="699" textLength="15.012" lengthAdjust="spacingAndGlyphs">100</text>
<text x="1684.4" y="730" textLength="10.008" lengthAdjust="spacingAndGlyphs">70</text>
<text x="1684.4" y="778" textLength="10.008" lengthAdjust="spacingAndGlyphs">30</text>
<text x="1684.4" y="808" textLength="5.004" lengthAdjust="spacingAndGlyphs">0</text>
<text x="15.4" y="17" textLength="57" lengthAdjust="spacingAndGlyphs">XAUUSD-,H4</text>
<text x="79.3" y="17" textLength="32.3" lengthAdjust="spacingAndGlyphs">1819.25</text>
<text x="115.3" y="17" textLength="32.3" lengthAdjust="spacingAndGlyphs">1820.39</text>
<text x="151.3" y="17" textLength="32.3" lengthAdjust="spacingAndGlyphs">1815.03</text>
<text x="187.3" y="17" textLength="32.3" lengthAdjust="spacingAndGlyphs">1820.00</text>
<text x="5" y="535" textLength="121" lengthAdjust="spacingAndGlyphs">MACD(12,26,9) -0.534 3.309</text>
<text x="5" y="701" textLength="67.5" lengthAdjust="spacingAndGlyphs">RSI(14) 35.2111</text>
<text x="0.2" y="824" textLength="51.3" lengthAdjust="spacingAndGlyphs">17 Dec 2021</text>
<text x="64.2" y="824" textLength="54.2" lengthAdjust="spacingAndGlyphs">20 Dec 16:00</text>
<text x="128.2" y="824" textLength="54.2" lengthAdjust="spacingAndGlyphs">22 Dec 00:00</text>
<text x="192.2" y="824" textLength="54.2" lengthAdjust="spacingAndGlyphs">23 Dec 08:00</text>
<text x="256.2" y="824" textLength="54.2" lengthAdjust="spacingAndGlyphs">27 Dec 12:00</text>
<text x="320.2" y="824" textLength="54.2" lengthAdjust="spacingAndGlyphs">28 Dec 20:00</text>
<text x="384.2" y="824" textLength="54.2" lengthAdjust="spacingAndGlyphs">30 Dec 04:00</text>
<text x="448.2" y="824" textLength="54.2" lengthAdjust="spacingAndGlyphs">31 Dec 12:00</text>
<text x="512.2" y="824" textLength="47.5" lengthAdjust="spacingAndGlyphs">3 Jan 20:00</text>
<text x="576.2" y="824" textLength="47.5" lengthAdjust="spacingAndGlyphs">5 Jan 04:00</text>
<text x="640.2" y="824" textLength="47.5" lengthAdjust="spacingAndGlyphs">6 Jan 12:00</text>
<text x="704.2" y="824" textLength="47.5" lengthAdjust="spacingAndGlyphs">9 Jan 23:00</text>
<text x="768.2" y="824" textLength="52.4" lengthAdjust="spacingAndGlyphs">11 Jan 04:00</text>
<text x="832.2" y="824" textLength="52.4" lengthAdjust="spacingAndGlyphs">12 Jan 12:00</text>
<text x="896.2" y="824" textLength="52.4" lengthAdjust="spacingAndGlyphs">13 Jan 20:00</text>
<text x="960.2" y="824" textLength="52.4" lengthAdjust="spacingAndGlyphs">17 Jan 04:00</text>
<text x="1024.2" y="824" textLength="52.4" lengthAdjust="spacingAndGlyphs">18 Jan 12:00</text>
<text x="1088.2" y="824" textLength="52.4" lengthAdjust="spacingAndGlyphs">19 Jan 20:00</text>
<text x="1152.2" y="824" textLength="52.4" lengthAdjust="spacingAndGlyphs">21 Jan 04:00</text>
<text x="1216.2" y="824" textLength="52.4" lengthAdjust="spacingAndGlyphs">24 Jan 12:00</text>
<text x="1280.2" y="824" textLength="52.4" lengthAdjust="spacingAndGlyphs">25 Jan 20:00</text>
<text x="1386.1" y="352.1" class="note" style="font-size:38px;letter-spacing:-1.95px">多空转折点</text>
<text x="1568" y="350.6" class="note" style="font-size:38.8px" textLength="83" lengthAdjust="spacingAndGlyphs">1815</text>
</svg></body></html>
